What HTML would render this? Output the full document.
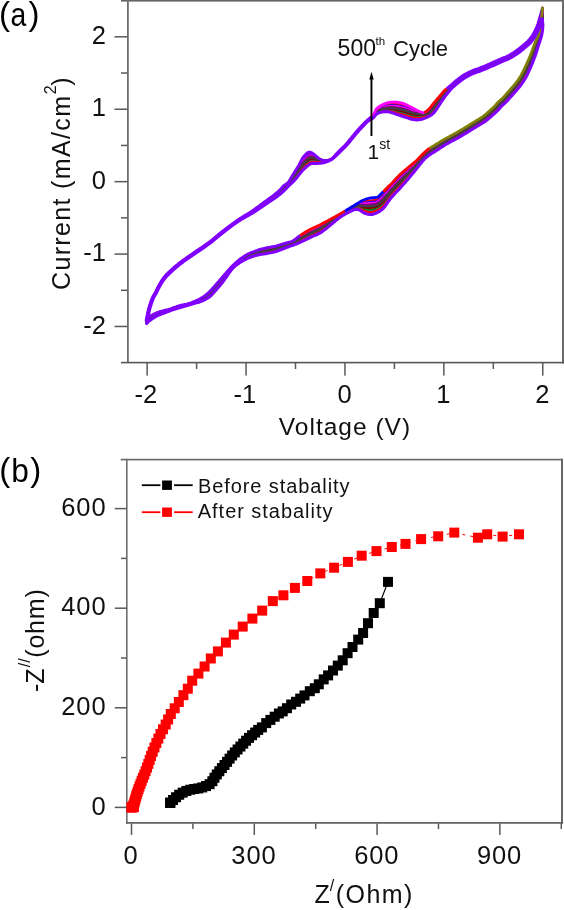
<!DOCTYPE html>
<html><head><meta charset="utf-8"><style>html,body{margin:0;padding:0;background:#fff;width:564px;height:910px;overflow:hidden;position:relative}</style></head>
<body>
<svg width="564" height="910" viewBox="0 0 564 910" style="position:absolute;left:0;top:0;filter:blur(0.4px)">
<rect x="0" y="0" width="564" height="910" fill="#fff"/>
<rect x="121" y="0" width="443" height="1.6" fill="#666"/>
<rect x="127" y="0" width="1.8" height="363" fill="#6e6e6e"/>
<rect x="562" y="0" width="2" height="363.4" fill="#6a6a6a"/>
<rect x="121" y="361.8" width="443" height="1.6" fill="#555"/>
<rect x="114.5" y="325.74" width="13" height="1.5" fill="#5a5a5a"/>
<rect x="121" y="289.53" width="6.5" height="1.5" fill="#5a5a5a"/>
<rect x="114.5" y="253.32" width="13" height="1.5" fill="#5a5a5a"/>
<rect x="121" y="217.11" width="6.5" height="1.5" fill="#5a5a5a"/>
<rect x="114.5" y="180.9" width="13" height="1.5" fill="#5a5a5a"/>
<rect x="121" y="144.69" width="6.5" height="1.5" fill="#5a5a5a"/>
<rect x="114.5" y="108.48" width="13" height="1.5" fill="#5a5a5a"/>
<rect x="121" y="72.27" width="6.5" height="1.5" fill="#5a5a5a"/>
<rect x="114.5" y="36.06" width="13" height="1.5" fill="#5a5a5a"/>
<rect x="146.4" y="363" width="1.5" height="12.6" fill="#5a5a5a"/>
<rect x="195.85" y="363" width="1.5" height="6" fill="#5a5a5a"/>
<rect x="245.3" y="363" width="1.5" height="12.6" fill="#5a5a5a"/>
<rect x="294.75" y="363" width="1.5" height="6" fill="#5a5a5a"/>
<rect x="344.2" y="363" width="1.5" height="12.6" fill="#5a5a5a"/>
<rect x="393.65" y="363" width="1.5" height="6" fill="#5a5a5a"/>
<rect x="443.1" y="363" width="1.5" height="12.6" fill="#5a5a5a"/>
<rect x="492.55" y="363" width="1.5" height="6" fill="#5a5a5a"/>
<rect x="542" y="363" width="1.5" height="12.6" fill="#5a5a5a"/>
<text x="106" y="43.91" font-family="Liberation Sans, sans-serif" font-size="25.5" text-anchor="end" fill="#111">2</text>
<text x="106" y="116.33" font-family="Liberation Sans, sans-serif" font-size="25.5" text-anchor="end" fill="#111">1</text>
<text x="106" y="188.75" font-family="Liberation Sans, sans-serif" font-size="25.5" text-anchor="end" fill="#111">0</text>
<text x="106" y="261.17" font-family="Liberation Sans, sans-serif" font-size="25.5" text-anchor="end" fill="#111">-1</text>
<text x="106" y="333.59" font-family="Liberation Sans, sans-serif" font-size="25.5" text-anchor="end" fill="#111">-2</text>
<text x="145.95" y="403.4" font-family="Liberation Sans, sans-serif" font-size="25.5" text-anchor="middle" fill="#111">-2</text>
<text x="244.85" y="403.4" font-family="Liberation Sans, sans-serif" font-size="25.5" text-anchor="middle" fill="#111">-1</text>
<text x="344.55" y="403.4" font-family="Liberation Sans, sans-serif" font-size="25.5" text-anchor="middle" fill="#111">0</text>
<text x="443.45" y="403.4" font-family="Liberation Sans, sans-serif" font-size="25.5" text-anchor="middle" fill="#111">1</text>
<text x="542.35" y="403.4" font-family="Liberation Sans, sans-serif" font-size="25.5" text-anchor="middle" fill="#111">2</text>
<text x="278.8" y="435" font-family="Liberation Sans, sans-serif" font-size="24.5" textLength="131.3" lengthAdjust="spacing" fill="#111">Voltage (V)</text>
<g transform="translate(69.5,290) rotate(-90)"><text x="0" y="0" font-family="Liberation Sans, sans-serif" font-size="25" fill="#111"><tspan textLength="194" lengthAdjust="spacing">Current (mA/cm</tspan><tspan font-size="16" dy="-13.5" dx="0.5">2</tspan><tspan dy="13.5" dx="-0.5">)</tspan></text></g>
<text x="-1" y="24.6" font-family="Liberation Sans, sans-serif" font-size="33" fill="#000">(</text>
<text transform="translate(10.4,25.6) scale(0.86,1)" x="0" y="0" font-family="Liberation Sans, sans-serif" font-size="33" fill="#000">a</text>
<text x="28.4" y="24.6" font-family="Liberation Sans, sans-serif" font-size="33" fill="#000">)</text>
<polyline points="146.29,320.42 146.63,318.62 146.97,316.83 147.32,315.03 147.69,313.24 148.08,311.46 148.51,309.68 148.98,307.92 149.48,306.16 150.03,304.41 150.61,302.68 151.23,300.96 151.89,299.26 152.59,297.57 153.38,295.92 154.37,294.39 155.28,292.81 156.1,291.17 156.9,289.53 157.7,287.89 158.52,286.26 159.39,284.65 160.32,283.07 161.28,281.52 162.28,279.99 163.32,278.49 164.42,277.02 165.59,275.63 166.86,274.31 168.18,273.05 169.51,271.8 170.84,270.54 172.19,269.31 173.55,268.08 174.92,266.88 176.32,265.7 177.73,264.54 179.16,263.41 180.61,262.29 182.07,261.19 183.54,260.11 185.03,259.05 186.53,258.01 188.03,256.96 189.53,255.91 191.03,254.87 192.53,253.83 194.04,252.79 195.54,251.76 197.05,250.73 198.56,249.7 200.07,248.67 201.58,247.64 203.09,246.61 204.6,245.58 206.1,244.53 207.6,243.49 209.08,242.43 210.54,241.33 211.97,240.18 213.37,239.01 214.77,237.83 216.17,236.66 217.57,235.49 218.98,234.32 220.39,233.16 221.82,232.02 223.26,230.9 224.72,229.8 226.18,228.69 227.64,227.59 229.1,226.5 230.56,225.41 232.04,224.32 233.51,223.25 235,222.18 236.49,221.13 237.99,220.09 239.52,219.08 241.06,218.09 242.61,217.12 244.17,216.18 245.73,215.24 247.3,214.29 248.86,213.34 250.4,212.36 251.94,211.37 253.45,210.34 254.95,209.3 256.44,208.25 257.92,207.18 259.4,206.1 260.87,205.02 262.35,203.94 263.82,202.86 265.29,201.78 266.78,200.71 268.27,199.65 269.76,198.6 271.25,197.54 272.72,196.45 274.16,195.34 275.6,194.21 277.01,193.05 278.41,191.87 279.76,190.65 281.04,189.34 282.22,187.96 283.48,186.64 284.96,185.57 286.48,184.57 287.8,183.32 288.89,181.86 289.92,180.35 290.91,178.83 291.89,177.3 292.89,175.78 293.9,174.26 294.92,172.75 295.93,171.23 296.92,169.69 297.9,168.15 298.86,166.6 299.78,165.03 300.65,163.43 301.53,161.84 302.48,160.29 303.53,158.8 304.69,157.4 305.94,156.07 307.33,154.89 308.87,153.93 310.64,153.75 312.34,154.39 313.92,155.23 315.41,156.18 316.84,157.2 318.28,158.19 319.79,159.07 321.4,159.76 323.09,160.27 324.84,160.57 326.63,160.59 328.4,160.22 330.1,159.6 331.72,158.78 333.22,157.76 334.45,156.41 335.55,154.96 336.78,153.61 338.06,152.31 339.36,151.02 340.67,149.74 341.97,148.46 343.27,147.18 344.57,145.89 345.84,144.58 347.06,143.22 348.24,141.83 349.4,140.41 350.55,138.99 351.7,137.58 352.86,136.16 354.02,134.75 355.19,133.34 356.36,131.94 357.56,130.56 358.78,129.2 360.01,127.85 361.25,126.51 362.51,125.18 363.78,123.87 365.06,122.57 366.38,121.31 367.74,120.1 369.15,118.95 370.58,117.81 371.95,116.61 373.24,115.33 374.39,113.93 375.29,112.41 376.15,110.89 377.25,109.53 378.61,108.38 380.1,107.4 381.65,106.54 383.3,105.88 385.01,105.36 386.72,104.89 388.46,104.5 390.23,104.23 392.03,104.1 393.84,104.06 395.65,104.09 397.46,104.22 399.27,104.49 401.05,104.86 402.82,105.32 404.55,105.91 406.25,106.58 407.92,107.3 409.59,108.03 411.25,108.73 412.91,109.42 414.57,110.09 416.2,110.77 417.83,111.43 419.46,112.05 421.12,112.59 422.84,112.95 424.62,112.98 426.34,112.41 427.84,111.39 429.16,110.13 430.4,108.78 431.54,107.36 432.63,105.89 433.74,104.44 434.88,103.02 436.04,101.6 437.19,100.19 438.35,98.78 439.52,97.37 440.68,95.97 441.85,94.56 443.01,93.15 444.19,91.76 445.42,90.41 446.74,89.14 448.13,87.96 449.55,86.82 450.95,85.64 452.32,84.44 453.7,83.23 455.09,82.04 456.49,80.87 457.92,79.73 459.37,78.62 460.83,77.53 462.33,76.47 463.86,75.48 465.43,74.55 467.03,73.67 468.66,72.85 470.31,72.06 471.98,71.31 473.67,70.61 475.38,69.99 477.12,69.41 478.84,68.81 480.55,68.15 482.24,67.46 483.93,66.76 485.61,66.05 487.29,65.33 488.97,64.6 490.64,63.87 492.31,63.12 493.98,62.37 495.64,61.61 497.3,60.86 498.97,60.11 500.65,59.39 502.34,58.69 504.04,58.01 505.73,57.32 507.39,56.57 509.02,55.74 510.62,54.85 512.19,53.92 513.73,52.94 515.25,51.93 516.75,50.88 518.23,49.81 519.68,48.69 521.1,47.55 522.51,46.38 523.91,45.2 525.3,44.02 526.68,42.82 528.01,41.57 529.26,40.24 530.43,38.83 531.52,37.37 532.53,35.85 533.49,34.29 534.39,32.7 535.24,31.08 536.04,29.44 536.79,27.77 537.48,26.08 538.09,24.36 538.63,22.61 539.12,20.85 539.6,19.09 540.11,17.33 540.63,15.58 541.16,14.24 541.63,13.01 542.09,11.78 542.54,10.55" fill="none" stroke="#ff0000" stroke-width="2.2" stroke-linejoin="round" stroke-linecap="round"/>
<polyline points="542.54,10.55 542.38,12.3 542.21,14.06 542.04,15.81 541.85,17.56 541.66,19.31 541.45,21.06 541.23,22.81 541,24.55 540.75,26.29 540.5,28.03 540.24,29.77 539.96,31.51 539.65,33.24 539.26,34.96 538.64,36.6 537.91,38.2 537.22,39.82 536.48,41.41 535.76,43.02 535.1,44.66 534.47,46.31 533.86,47.96 533.26,49.61 532.65,51.27 532.04,52.92 531.42,54.57 530.77,56.21 530.1,57.84 529.41,59.46 528.71,61.07 527.99,62.68 527.25,64.28 526.5,65.88 525.74,67.46 524.97,69.04 524.18,70.62 523.38,72.18 522.56,73.73 521.7,75.27 520.82,76.79 519.91,78.29 518.96,79.77 517.97,81.23 516.95,82.66 515.89,84.07 514.78,85.44 513.65,86.79 512.51,88.13 511.36,89.47 510.19,90.79 509,92.09 507.81,93.38 506.62,94.68 505.45,95.99 504.29,97.32 503.12,98.64 501.91,99.92 500.64,101.14 499.32,102.31 498,103.48 496.75,104.71 495.56,106.02 494.39,107.33 493.17,108.6 491.89,109.81 490.58,110.98 489.25,112.13 487.9,113.27 486.56,114.4 485.21,115.53 483.84,116.63 482.43,117.69 480.98,118.69 479.5,119.64 478,120.57 476.51,121.5 475,122.42 473.49,123.33 471.98,124.24 470.47,125.15 468.96,126.06 467.46,126.97 465.96,127.9 464.46,128.82 462.96,129.74 461.45,130.66 459.94,131.56 458.42,132.45 456.89,133.32 455.35,134.19 453.81,135.05 452.28,135.91 450.74,136.78 449.2,137.64 447.66,138.49 446.12,139.34 444.58,140.2 443.05,141.06 441.52,141.94 440,142.84 438.5,143.76 437.01,144.69 435.52,145.64 434.04,146.59 432.54,147.52 431.05,148.45 429.57,149.39 428.13,150.39 426.75,151.47 425.43,152.63 424.16,153.85 422.92,155.1 421.68,156.35 420.46,157.62 419.26,158.91 418.06,160.2 416.85,161.48 415.6,162.72 414.32,163.93 413.02,165.11 411.69,166.27 410.36,167.42 409.03,168.57 407.71,169.72 406.38,170.88 405.05,172.04 403.72,173.19 402.4,174.35 401.1,175.54 399.83,176.75 398.58,178 397.37,179.28 396.16,180.56 394.97,181.86 393.78,183.16 392.59,184.46 391.39,185.75 390.18,187.03 388.97,188.31 387.76,189.58 386.54,190.85 385.33,192.12 384.11,193.39 382.87,194.64 381.61,195.88 380.32,197.08 379.05,198.28 377.73,199.41 376.05,199.91 374.3,200.12 372.55,200.25 370.79,200.4 369.06,200.65 367.35,200.96 365.67,201.32 364.04,201.7 362.44,202.14 360.88,202.65 359.35,203.28 357.82,204 356.3,204.83 354.77,205.69 353.25,206.58 351.74,207.48 350.22,208.38 348.71,209.29 347.2,210.19 345.69,211.1 344.18,212.01 342.67,212.92 341.16,213.83 339.65,214.73 338.14,215.63 336.63,216.53 335.12,217.42 333.6,218.31 332.08,219.2 330.56,220.08 329.04,220.96 327.51,221.84 325.99,222.71 324.46,223.58 322.92,224.44 321.38,225.28 319.82,226.1 318.24,226.88 316.64,227.62 315.03,228.34 313.43,229.06 311.83,229.8 310.25,230.58 308.69,231.41 307.15,232.27 305.63,233.15 304.11,234.04 302.6,234.95 301.1,235.88 299.62,236.82 298.18,237.83 296.77,238.87 295.37,239.92 293.93,240.91 292.38,241.74 290.74,242.39 289.05,242.87 287.35,243.32 285.66,243.83 283.98,244.36 282.3,244.9 280.62,245.43 278.94,245.94 277.25,246.43 275.54,246.88 273.82,247.27 272.09,247.6 270.36,247.91 268.62,248.21 266.89,248.54 265.17,248.92 263.46,249.34 261.75,249.76 260.05,250.21 258.35,250.69 256.67,251.21 255.01,251.79 253.36,252.41 251.72,253.05 250.09,253.73 248.48,254.45 246.9,255.22 245.35,256.06 243.84,256.96 242.36,257.93 240.92,258.94 239.51,260 238.13,261.09 236.78,262.22 235.46,263.39 234.17,264.59 232.91,265.82 231.68,267.08 230.49,268.37 229.31,269.69 228.16,271.02 227.02,272.36 225.89,273.71 224.76,275.06 223.62,276.4 222.48,277.74 221.33,279.08 220.19,280.42 219.05,281.76 217.91,283.11 216.77,284.45 215.62,285.79 214.46,287.12 213.29,288.43 212.1,289.73 210.89,291.01 209.64,292.26 208.35,293.46 207,294.59 205.61,295.66 204.17,296.68 202.69,297.63 201.18,298.53 199.64,299.37 198.05,300.13 196.44,300.83 194.81,301.51 193.19,302.18 191.55,302.83 189.9,303.44 188.22,303.98 186.51,304.4 184.78,304.75 183.06,305.1 181.35,305.53 179.65,306 177.96,306.5 176.28,307.03 174.61,307.58 172.95,308.18 171.29,308.77 169.62,309.33 167.93,309.82 166.23,310.28 164.53,310.74 162.84,311.22 161.14,311.68 159.44,312.17 157.78,312.75 156.16,313.44 154.58,314.21 153.02,315.04 151.5,315.92 150.03,316.9 148.75,318.1 147.65,319.47 146.7,320.95" fill="none" stroke="#ff0000" stroke-width="2.2" stroke-linejoin="round" stroke-linecap="round"/>
<polyline points="146.76,320.51 147.1,318.74 147.44,316.96 147.78,315.19 148.14,313.41 148.53,311.65 148.96,309.89 149.41,308.14 149.91,306.41 150.44,304.68 151.02,302.96 151.63,301.26 152.28,299.58 152.97,297.91 153.74,296.27 154.71,294.75 155.62,293.19 156.43,291.58 157.22,289.95 158.01,288.32 158.83,286.71 159.68,285.12 160.59,283.56 161.55,282.02 162.55,280.52 163.59,279.04 164.68,277.6 165.83,276.21 167.07,274.89 168.37,273.64 169.69,272.4 171.01,271.16 172.33,269.93 173.68,268.72 175.03,267.53 176.41,266.35 177.8,265.2 179.22,264.08 180.64,262.97 182.08,261.88 183.54,260.8 185.01,259.75 186.49,258.72 187.97,257.68 189.46,256.65 190.94,255.61 192.42,254.59 193.91,253.56 195.4,252.53 196.89,251.51 198.39,250.5 199.88,249.48 201.38,248.46 202.87,247.44 204.36,246.42 205.85,245.39 207.33,244.36 208.81,243.31 210.26,242.24 211.69,241.13 213.08,239.98 214.46,238.82 215.85,237.65 217.24,236.5 218.63,235.34 220.02,234.19 221.42,233.05 222.84,231.94 224.28,230.83 225.72,229.74 227.16,228.65 228.6,227.56 230.05,226.48 231.5,225.4 232.95,224.33 234.42,223.26 235.89,222.22 237.37,221.18 238.87,220.18 240.39,219.2 241.93,218.24 243.48,217.32 245.04,216.4 246.6,215.49 248.16,214.58 249.71,213.66 251.26,212.72 252.78,211.74 254.29,210.75 255.78,209.74 257.27,208.71 258.75,207.67 260.22,206.63 261.7,205.58 263.17,204.53 264.64,203.48 266.11,202.44 267.6,201.4 269.09,200.38 270.58,199.36 272.06,198.33 273.54,197.29 274.99,196.21 276.42,195.11 277.84,193.99 279.23,192.84 280.56,191.63 281.84,190.37 283.15,189.12 284.54,187.98 285.93,186.85 287.21,185.58 288.34,184.17 289.49,182.8 290.64,181.43 291.78,180.05 292.9,178.65 294.03,177.25 295.14,175.83 296.22,174.39 297.26,172.92 298.28,171.43 299.31,169.95 300.34,168.47 301.36,166.99 302.39,165.54 303.5,164.13 304.68,162.78 305.92,161.48 307.24,160.25 308.68,159.17 310.28,158.36 312.05,158.21 313.78,158.6 315.46,159.08 317.09,159.53 318.69,160.02 320.28,160.44 321.9,160.72 323.55,160.83 325.24,160.81 326.94,160.65 328.64,160.29 330.27,159.63 331.84,158.78 333.32,157.79 334.72,156.67 335.97,155.37 337.15,154 338.39,152.69 339.66,151.4 340.95,150.13 342.24,148.87 343.53,147.6 344.8,146.32 346.05,145.02 347.27,143.68 348.45,142.31 349.6,140.92 350.74,139.52 351.89,138.12 353.03,136.72 354.17,135.32 355.33,133.93 356.49,132.54 357.67,131.17 358.87,129.82 360.08,128.48 361.31,127.16 362.55,125.84 363.79,124.52 365.05,123.23 366.34,121.97 367.71,120.79 369.17,119.76 370.66,118.77 372.08,117.64 373.28,116.32 374.49,114.99 375.79,113.77 377.03,112.62 378.28,111.56 379.68,110.66 381.24,109.94 382.86,109.38 384.52,108.99 386.22,108.8 387.94,108.73 389.64,108.74 391.36,108.8 393.1,108.93 394.85,109.12 396.6,109.37 398.35,109.65 400.11,109.99 401.86,110.39 403.61,110.85 405.35,111.35 407.06,111.91 408.77,112.49 410.48,113.05 412.19,113.56 413.91,113.97 415.63,114.28 417.33,114.53 419.02,114.7 420.68,114.79 422.32,114.8 423.96,114.74 425.63,114.56 427.31,114.17 428.93,113.43 430.37,112.35 431.63,111.06 432.8,109.68 433.9,108.25 434.94,106.77 435.98,105.29 437.03,103.83 438.1,102.38 439.17,100.92 440.24,99.47 441.33,98.03 442.43,96.6 443.55,95.18 444.68,93.77 445.83,92.38 447.02,91.02 448.26,89.71 449.56,88.46 450.89,87.24 452.24,86.04 453.6,84.85 454.97,83.68 456.36,82.52 457.77,81.39 459.19,80.27 460.62,79.17 462.08,78.1 463.58,77.09 465.11,76.13 466.68,75.23 468.27,74.38 469.89,73.58 471.53,72.82 473.19,72.1 474.87,71.44 476.58,70.86 478.29,70.28 479.99,69.65 481.67,68.99 483.34,68.3 485.01,67.6 486.67,66.9 488.34,66.18 489.99,65.46 491.65,64.73 493.3,63.99 494.94,63.25 496.59,62.5 498.23,61.75 499.89,61.02 501.55,60.31 503.22,59.63 504.9,58.96 506.57,58.26 508.21,57.5 509.82,56.68 511.39,55.79 512.94,54.86 514.47,53.89 515.97,52.89 517.46,51.86 518.92,50.79 520.35,49.69 521.76,48.56 523.15,47.41 524.54,46.24 525.92,45.08 527.28,43.89 528.61,42.67 529.86,41.36 531.03,39.99 532.12,38.54 533.13,37.04 534.08,35.51 534.98,33.94 535.83,32.34 536.63,30.72 537.38,29.08 538.07,27.41 538.71,25.72 539.25,23.99 539.73,22.25 540.18,20.5 540.64,18.75 541.17,17.03 541.74,16.79 542.06,16.98 542.36,17.16 542.66,17.35" fill="none" stroke="#000080" stroke-width="2.2" stroke-linejoin="round" stroke-linecap="round"/>
<polyline points="542.66,17.35 542.54,19.1 542.41,20.86 542.24,22.61 542.03,24.35 541.78,26.09 541.51,27.83 541.19,29.55 540.83,31.26 540.43,32.96 540.04,34.67 539.65,36.37 539.26,38.08 538.85,39.79 538.4,41.49 537.82,43.14 537.19,44.78 536.57,46.42 535.9,48.04 535.24,49.67 534.6,51.31 533.97,52.95 533.35,54.59 532.71,56.23 532.07,57.87 531.43,59.5 530.77,61.13 530.1,62.76 529.41,64.38 528.7,65.98 527.97,67.58 527.21,69.17 526.42,70.74 525.61,72.29 524.77,73.83 523.9,75.36 523.01,76.87 522.1,78.36 521.15,79.82 520.17,81.27 519.17,82.71 518.15,84.13 517.11,85.54 516.04,86.93 514.95,88.3 513.84,89.66 512.7,91.01 511.56,92.34 510.41,93.67 509.24,94.98 508.04,96.27 506.8,97.51 505.54,98.73 504.31,99.99 503.14,101.3 502,102.63 500.83,103.94 499.6,105.21 498.33,106.42 497.02,107.6 495.71,108.77 494.43,109.97 493.19,111.21 491.94,112.44 490.66,113.64 489.33,114.78 487.96,115.88 486.56,116.94 485.15,117.98 483.74,119.01 482.32,120.04 480.89,121.05 479.44,122.03 477.96,122.99 476.47,123.92 474.97,124.84 473.48,125.77 471.98,126.69 470.48,127.61 468.98,128.53 467.48,129.44 465.97,130.34 464.46,131.24 462.95,132.14 461.44,133.04 459.92,133.93 458.41,134.81 456.88,135.69 455.35,136.55 453.81,137.4 452.27,138.24 450.73,139.09 449.2,139.95 447.68,140.84 446.17,141.74 444.67,142.65 443.17,143.56 441.67,144.48 440.16,145.39 438.65,146.28 437.14,147.18 435.63,148.09 434.14,149.02 432.67,149.99 431.22,150.97 429.79,151.98 428.38,153.02 427.01,154.1 425.7,155.24 424.44,156.46 423.23,157.72 422.04,159 420.87,160.31 419.7,161.62 418.54,162.94 417.39,164.26 416.23,165.59 415.07,166.9 413.89,168.2 412.68,169.47 411.46,170.73 410.23,171.98 409,173.22 407.76,174.45 406.51,175.69 405.26,176.92 404.01,178.14 402.75,179.37 401.5,180.59 400.25,181.83 399.02,183.09 397.81,184.35 396.6,185.63 395.39,186.91 394.2,188.21 393.02,189.51 391.85,190.82 390.7,192.14 389.56,193.48 388.44,194.83 387.34,196.19 386.22,197.54 385.09,198.88 383.92,200.19 382.69,201.44 381.4,202.63 380.04,203.73 378.65,204.78 377.21,205.75 375.56,206.34 373.86,206.7 372.12,206.93 370.36,207.04 368.63,207.07 366.92,207.03 365.26,206.95 363.67,206.76 362.14,206.53 360.63,206.34 359.1,206.26 357.5,206.45 355.87,206.94 354.27,207.64 352.72,208.44 351.17,209.28 349.63,210.11 348.09,210.96 346.56,211.83 345.05,212.72 343.54,213.63 342.05,214.56 340.56,215.5 339.1,216.47 337.66,217.46 336.22,218.47 334.79,219.47 333.37,220.48 331.93,221.49 330.49,222.48 329.04,223.46 327.58,224.44 326.13,225.41 324.68,226.39 323.21,227.34 321.72,228.27 320.2,229.16 318.66,229.99 317.08,230.75 315.47,231.47 313.86,232.17 312.25,232.87 310.65,233.61 309.08,234.39 307.52,235.21 305.98,236.05 304.44,236.9 302.91,237.76 301.38,238.62 299.85,239.47 298.33,240.33 296.82,241.19 295.3,242.03 293.76,242.83 292.16,243.55 290.52,244.16 288.84,244.68 287.16,245.19 285.49,245.76 283.84,246.35 282.19,246.95 280.53,247.54 278.87,248.11 277.2,248.64 275.51,249.13 273.8,249.54 272.08,249.89 270.35,250.2 268.62,250.5 266.89,250.82 265.16,251.17 263.45,251.53 261.73,251.89 260.01,252.26 258.3,252.66 256.6,253.12 254.93,253.63 253.27,254.21 251.62,254.82 249.99,255.47 248.37,256.17 246.78,256.92 245.22,257.73 243.7,258.6 242.2,259.52 240.72,260.47 239.27,261.46 237.86,262.5 236.49,263.6 235.15,264.74 233.87,265.95 232.65,267.21 231.46,268.5 230.34,269.85 229.23,271.21 228.15,272.6 227.08,273.99 226.02,275.38 224.95,276.77 223.87,278.16 222.77,279.53 221.65,280.89 220.53,282.24 219.4,283.59 218.27,284.93 217.13,286.27 215.98,287.6 214.82,288.93 213.65,290.24 212.46,291.53 211.25,292.81 210.01,294.05 208.69,295.21 207.27,296.24 205.83,297.24 204.34,298.17 202.82,299.04 201.26,299.84 199.67,300.57 198.04,301.2 196.38,301.77 194.73,302.35 193.08,302.94 191.42,303.53 189.76,304.1 188.08,304.62 186.38,305.07 184.67,305.49 182.97,305.9 181.27,306.36 179.58,306.86 177.9,307.36 176.22,307.89 174.55,308.42 172.88,308.96 171.21,309.52 169.54,310.08 167.88,310.64 166.22,311.2 164.55,311.76 162.89,312.31 161.21,312.84 159.54,313.37 157.9,314 156.31,314.74 154.76,315.56 153.23,316.44 151.73,317.36 150.27,318.33 148.92,319.45 147.74,320.74 146.7,322.15" fill="none" stroke="#000080" stroke-width="2.2" stroke-linejoin="round" stroke-linecap="round"/>
<polyline points="146.52,320.46 146.86,318.68 147.2,316.89 147.55,315.11 147.91,313.33 148.3,311.55 148.73,309.79 149.2,308.03 149.7,306.28 150.23,304.55 150.81,302.82 151.43,301.11 152.08,299.42 152.78,297.74 153.56,296.1 154.54,294.57 155.45,293 156.27,291.37 157.06,289.74 157.86,288.11 158.67,286.48 159.54,284.88 160.45,283.31 161.41,281.77 162.41,280.25 163.46,278.76 164.55,277.31 165.71,275.92 166.97,274.6 168.28,273.34 169.6,272.1 170.92,270.85 172.26,269.62 173.61,268.4 174.98,267.2 176.36,266.03 177.77,264.87 179.19,263.74 180.63,262.63 182.08,261.53 183.54,260.46 185.02,259.4 186.51,258.36 188,257.32 189.49,256.28 190.98,255.24 192.48,254.21 193.97,253.18 195.47,252.15 196.97,251.12 198.48,250.1 199.98,249.08 201.48,248.05 202.98,247.03 204.48,246 205.97,244.96 207.46,243.92 208.94,242.87 210.4,241.79 211.83,240.66 213.23,239.5 214.61,238.32 216.01,237.16 217.4,235.99 218.8,234.83 220.21,233.68 221.62,232.54 223.05,231.42 224.5,230.31 225.95,229.22 227.4,228.12 228.85,227.03 230.31,225.94 231.77,224.86 233.23,223.79 234.71,222.72 236.19,221.67 237.68,220.64 239.2,219.63 240.72,218.65 242.27,217.68 243.82,216.75 245.39,215.82 246.95,214.89 248.51,213.96 250.06,213.01 251.6,212.04 253.11,211.04 254.62,210.03 256.11,208.99 257.59,207.94 259.07,206.89 260.55,205.82 262.02,204.76 263.49,203.69 264.97,202.63 266.45,201.57 267.93,200.53 269.43,199.49 270.92,198.45 272.39,197.39 273.85,196.31 275.29,195.21 276.72,194.08 278.12,192.93 279.49,191.74 280.8,190.49 282.03,189.16 283.31,187.88 284.75,186.78 286.2,185.71 287.51,184.45 288.62,183.02 289.71,181.58 290.78,180.13 291.84,178.67 292.89,177.21 293.96,175.76 295.03,174.29 296.07,172.81 297.09,171.31 298.09,169.79 299.08,168.27 300.06,166.75 301.01,165.21 301.96,163.69 302.99,162.21 304.1,160.79 305.3,159.44 306.59,158.16 308.01,157.03 309.58,156.14 311.35,155.98 313.06,156.49 314.69,157.15 316.25,157.86 317.76,158.61 319.28,159.32 320.85,159.89 322.48,160.3 324.16,160.54 325.89,160.61 327.64,160.44 329.34,159.92 330.97,159.19 332.52,158.29 333.97,157.21 335.21,155.89 336.35,154.48 337.58,153.15 338.86,151.86 340.16,150.58 341.45,149.31 342.75,148.03 344.04,146.75 345.31,145.45 346.55,144.13 347.75,142.76 348.92,141.37 350.07,139.97 351.22,138.56 352.37,137.15 353.52,135.74 354.67,134.34 355.84,132.94 357.02,131.56 358.21,130.19 359.43,128.84 360.66,127.5 361.9,126.18 363.15,124.85 364.41,123.55 365.7,122.27 367.04,121.05 368.46,119.93 369.91,118.86 371.33,117.73 372.62,116.47 373.87,115.16 375.09,113.85 376.16,112.51 377.21,111.22 378.47,110.09 379.92,109.16 381.48,108.39 383.09,107.77 384.76,107.34 386.47,107.05 388.18,106.82 389.91,106.65 391.66,106.58 393.44,106.61 395.22,106.71 397,106.87 398.79,107.11 400.57,107.44 402.33,107.86 404.08,108.33 405.81,108.91 407.51,109.54 409.2,110.18 410.89,110.79 412.58,111.35 414.27,111.85 415.95,112.31 417.61,112.73 419.25,113.11 420.89,113.42 422.54,113.66 424.23,113.76 425.96,113.58 427.63,112.92 429.11,111.87 430.4,110.59 431.6,109.23 432.72,107.8 433.79,106.33 434.86,104.87 435.96,103.42 437.07,101.99 438.18,100.56 439.3,99.13 440.42,97.7 441.56,96.29 442.7,94.87 443.85,93.46 445.01,92.07 446.22,90.71 447.5,89.42 448.84,88.21 450.22,87.03 451.59,85.84 452.96,84.64 454.34,83.46 455.73,82.28 457.13,81.13 458.55,80 459.99,78.89 461.46,77.82 462.95,76.78 464.48,75.8 466.05,74.89 467.65,74.03 469.28,73.22 470.92,72.44 472.58,71.7 474.27,71.03 475.98,70.42 477.71,69.84 479.42,69.23 481.11,68.57 482.79,67.88 484.47,67.18 486.14,66.47 487.81,65.75 489.48,65.03 491.15,64.3 492.8,63.56 494.46,62.81 496.11,62.05 497.77,61.3 499.43,60.56 501.1,59.85 502.78,59.16 504.47,58.48 506.15,57.79 507.8,57.03 509.42,56.21 511.01,55.32 512.56,54.39 514.1,53.41 515.61,52.41 517.11,51.37 518.57,50.3 520.01,49.19 521.43,48.05 522.83,46.89 524.22,45.72 525.61,44.55 526.98,43.36 528.31,42.12 529.56,40.8 530.73,39.41 531.82,37.96 532.83,36.45 533.78,34.9 534.68,33.32 535.53,31.71 536.33,30.08 537.09,28.43 537.78,26.74 538.4,25.04 538.94,23.3 539.42,21.55 539.89,19.8 540.37,18.04 540.9,16.31 541.45,15.51 541.84,14.99 542.22,14.47 542.61,13.95" fill="none" stroke="#808000" stroke-width="2.2" stroke-linejoin="round" stroke-linecap="round"/>
<polyline points="542.61,13.95 542.46,15.7 542.31,17.46 542.14,19.21 541.94,20.96 541.72,22.7 541.48,24.44 541.21,26.18 540.91,27.91 540.59,29.63 540.27,31.35 539.94,33.07 539.61,34.79 539.25,36.51 538.83,38.22 538.23,39.87 537.55,41.49 536.89,43.12 536.19,44.73 535.5,46.35 534.85,47.98 534.22,49.63 533.61,51.27 532.99,52.92 532.36,54.57 531.73,56.21 531.09,57.85 530.43,59.48 529.75,61.11 529.06,62.72 528.34,64.33 527.6,65.92 526.84,67.51 526.05,69.08 525.25,70.65 524.43,72.2 523.6,73.74 522.74,75.27 521.85,76.78 520.94,78.27 519.99,79.75 519.03,81.21 518.03,82.66 517.01,84.08 515.95,85.48 514.86,86.86 513.74,88.22 512.61,89.57 511.46,90.9 510.3,92.22 509.12,93.53 507.9,94.8 506.68,96.06 505.47,97.33 504.29,98.65 503.14,99.98 501.97,101.29 500.76,102.57 499.49,103.78 498.17,104.95 496.86,106.12 495.59,107.34 494.38,108.61 493.17,109.89 491.92,111.12 490.61,112.29 489.27,113.43 487.91,114.53 486.53,115.62 485.15,116.71 483.77,117.78 482.36,118.84 480.93,119.86 479.47,120.84 477.99,121.78 476.49,122.71 474.99,123.63 473.49,124.55 471.99,125.47 470.48,126.38 468.98,127.29 467.47,128.2 465.96,129.11 464.45,130.02 462.95,130.93 461.44,131.84 459.93,132.74 458.41,133.63 456.88,134.5 455.35,135.36 453.81,136.22 452.27,137.07 450.74,137.93 449.21,138.81 447.69,139.69 446.16,140.57 444.64,141.45 443.13,142.34 441.61,143.22 440.09,144.11 438.57,145.01 437.07,145.92 435.57,146.85 434.1,147.81 432.63,148.78 431.16,149.75 429.71,150.73 428.29,151.75 426.91,152.82 425.6,153.97 424.33,155.17 423.1,156.43 421.89,157.7 420.69,158.99 419.5,160.28 418.32,161.59 417.15,162.89 415.96,164.19 414.74,165.46 413.5,166.7 412.24,167.92 410.96,169.12 409.68,170.32 408.39,171.51 407.11,172.71 405.82,173.9 404.53,175.09 403.24,176.28 401.95,177.47 400.68,178.69 399.42,179.92 398.19,181.18 396.98,182.45 395.78,183.74 394.59,185.03 393.4,186.34 392.22,187.64 391.04,188.95 389.87,190.26 388.71,191.57 387.55,192.88 386.38,194.19 385.21,195.5 384.01,196.79 382.78,198.04 381.5,199.25 380.18,200.4 378.85,201.53 377.47,202.58 375.81,203.13 374.08,203.41 372.33,203.59 370.58,203.72 368.84,203.86 367.14,204 365.47,204.13 363.85,204.23 362.29,204.33 360.75,204.49 359.22,204.77 357.66,205.22 356.08,205.88 354.52,206.67 352.98,207.51 351.45,208.38 349.93,209.25 348.4,210.12 346.88,211.01 345.37,211.91 343.86,212.82 342.36,213.74 340.86,214.66 339.38,215.6 337.9,216.55 336.43,217.5 334.95,218.45 333.48,219.4 332.01,220.34 330.52,221.28 329.04,222.21 327.55,223.14 326.06,224.06 324.57,224.98 323.07,225.89 321.55,226.78 320.01,227.63 318.45,228.43 316.86,229.19 315.25,229.91 313.64,230.61 312.04,231.33 310.45,232.1 308.89,232.9 307.34,233.74 305.8,234.6 304.28,235.47 302.75,236.35 301.24,237.25 299.73,238.15 298.25,239.08 296.79,240.03 295.34,240.97 293.84,241.87 292.27,242.65 290.63,243.28 288.94,243.77 287.25,244.26 285.58,244.79 283.91,245.36 282.25,245.92 280.58,246.48 278.91,247.02 277.22,247.53 275.53,248 273.81,248.4 272.09,248.75 270.35,249.06 268.62,249.36 266.89,249.68 265.17,250.05 263.45,250.44 261.74,250.83 260.03,251.24 258.33,251.68 256.64,252.17 254.97,252.71 253.31,253.31 251.67,253.94 250.04,254.6 248.43,255.31 246.84,256.07 245.29,256.9 243.77,257.78 242.28,258.72 240.82,259.71 239.39,260.73 238,261.8 236.63,262.91 235.31,264.07 234.02,265.27 232.78,266.51 231.57,267.79 230.41,269.11 229.27,270.45 228.16,271.81 227.05,273.17 225.95,274.55 224.85,275.92 223.74,277.28 222.62,278.63 221.49,279.98 220.36,281.33 219.22,282.67 218.09,284.02 216.95,285.36 215.8,286.7 214.64,288.02 213.47,289.34 212.28,290.63 211.07,291.91 209.83,293.16 208.52,294.34 207.14,295.41 205.72,296.45 204.26,297.42 202.76,298.34 201.22,299.19 199.65,299.97 198.04,300.66 196.41,301.3 194.77,301.93 193.13,302.56 191.49,303.18 189.83,303.77 188.15,304.3 186.44,304.74 184.73,305.12 183.01,305.5 181.31,305.94 179.62,306.43 177.93,306.93 176.25,307.46 174.58,308 172.91,308.57 171.25,309.14 169.58,309.7 167.9,310.23 166.22,310.74 164.54,311.25 162.86,311.77 161.18,312.26 159.49,312.77 157.84,313.37 156.23,314.09 154.67,314.89 153.13,315.74 151.62,316.64 150.15,317.61 148.84,318.78 147.7,320.11 146.7,321.55" fill="none" stroke="#808000" stroke-width="2.2" stroke-linejoin="round" stroke-linecap="round"/>
<polyline points="146.94,320.55 147.27,318.78 147.61,317.01 147.95,315.24 148.31,313.48 148.7,311.72 149.12,309.97 149.58,308.23 150.07,306.5 150.6,304.78 151.17,303.07 151.78,301.38 152.43,299.7 153.11,298.03 153.87,296.4 154.84,294.88 155.75,293.33 156.56,291.73 157.34,290.11 158.13,288.49 158.94,286.88 159.79,285.29 160.7,283.74 161.65,282.21 162.65,280.71 163.69,279.25 164.78,277.81 165.92,276.42 167.15,275.11 168.45,273.86 169.76,272.62 171.07,271.39 172.39,270.17 173.72,268.96 175.07,267.77 176.44,266.6 177.83,265.45 179.24,264.33 180.66,263.22 182.09,262.13 183.54,261.06 185,260.02 186.48,258.98 187.95,257.95 189.43,256.92 190.91,255.89 192.38,254.87 193.87,253.85 195.35,252.83 196.84,251.81 198.32,250.8 199.81,249.78 201.3,248.77 202.79,247.75 204.27,246.74 205.75,245.71 207.23,244.68 208.7,243.65 210.16,242.59 211.58,241.49 212.97,240.35 214.35,239.19 215.73,238.03 217.11,236.87 218.49,235.73 219.88,234.58 221.28,233.44 222.69,232.32 224.11,231.22 225.54,230.13 226.98,229.05 228.42,227.96 229.85,226.88 231.3,225.8 232.75,224.73 234.2,223.67 235.67,222.63 237.14,221.59 238.63,220.59 240.15,219.61 241.67,218.66 243.22,217.74 244.78,216.84 246.34,215.94 247.9,215.05 249.45,214.14 251,213.22 252.53,212.27 254.04,211.29 255.54,210.3 257.02,209.28 258.51,208.26 259.98,207.23 261.45,206.19 262.92,205.15 264.39,204.12 265.87,203.08 267.35,202.06 268.84,201.05 270.33,200.04 271.82,199.04 273.3,198.02 274.76,196.97 276.2,195.89 277.62,194.79 279.02,193.66 280.38,192.49 281.7,191.27 283.02,190.05 284.38,188.88 285.73,187.71 286.99,186.43 288.14,185.04 289.34,183.72 290.54,182.41 291.73,181.08 292.91,179.73 294.08,178.37 295.22,176.99 296.33,175.58 297.39,174.12 298.43,172.65 299.48,171.2 300.55,169.77 301.62,168.33 302.72,166.92 303.88,165.57 305.1,164.27 306.38,163.01 307.73,161.82 309.19,160.78 310.81,160.03 312.58,159.88 314.33,160.19 316.04,160.52 317.72,160.79 319.38,161.07 321.03,161.28 322.69,161.34 324.36,161.23 326.04,161.01 327.72,160.67 329.39,160.17 330.98,159.41 332.49,158.48 333.92,157.42 335.29,156.26 336.54,154.97 337.75,153.64 339,152.34 340.26,151.07 341.54,149.8 342.83,148.54 344.12,147.28 345.38,146 346.61,144.69 347.8,143.34 348.97,141.97 350.11,140.58 351.25,139.18 352.39,137.79 353.52,136.39 354.67,135 355.81,133.62 356.98,132.24 358.16,130.89 359.36,129.54 360.57,128.22 361.8,126.9 363.04,125.59 364.27,124.28 365.52,122.98 366.82,121.74 368.21,120.6 369.71,119.63 371.23,118.7 372.64,117.58 373.78,116.21 374.96,114.86 376.31,113.71 377.68,112.69 379.08,111.81 380.6,111.09 382.22,110.53 383.9,110.12 385.6,109.91 387.32,109.9 389.04,110 390.74,110.19 392.45,110.42 394.17,110.69 395.9,111.01 397.63,111.36 399.37,111.74 401.1,112.15 402.84,112.6 404.57,113.09 406.29,113.61 408.01,114.16 409.72,114.71 411.43,115.21 413.16,115.64 414.9,115.93 416.64,116.1 418.37,116.19 420.08,116.17 421.75,116.05 423.39,115.83 425.03,115.54 426.67,115.16 428.32,114.62 429.9,113.81 431.32,112.7 432.56,111.4 433.69,110.01 434.78,108.58 435.81,107.1 436.81,105.61 437.84,104.13 438.88,102.67 439.91,101.2 440.95,99.73 442.01,98.28 443.09,96.84 444.19,95.42 445.31,94.01 446.45,92.61 447.61,91.24 448.83,89.92 450.09,88.64 451.39,87.4 452.72,86.19 454.07,85 455.45,83.84 456.84,82.7 458.25,81.58 459.66,80.47 461.1,79.38 462.55,78.32 464.05,77.32 465.58,76.37 467.14,75.49 468.74,74.65 470.36,73.86 471.99,73.11 473.64,72.4 475.33,71.76 477.03,71.18 478.73,70.6 480.42,69.97 482.09,69.3 483.76,68.62 485.42,67.92 487.07,67.21 488.73,66.5 490.38,65.79 492.02,65.06 493.67,64.32 495.31,63.58 496.94,62.83 498.58,62.09 500.23,61.36 501.89,60.66 503.56,59.98 505.23,59.31 506.88,58.61 508.52,57.85 510.12,57.03 511.68,56.14 513.23,55.21 514.74,54.25 516.24,53.25 517.72,52.22 519.18,51.16 520.6,50.07 522.01,48.94 523.4,47.79 524.77,46.63 526.15,45.47 527.51,44.3 528.84,43.08 530.09,41.79 531.26,40.42 532.35,38.99 533.35,37.49 534.3,35.96 535.2,34.4 536.05,32.81 536.85,31.2 537.6,29.57 538.3,27.91 538.94,26.23 539.49,24.51 539.96,22.78 540.4,21.03 540.84,19.29 541.38,17.57 541.95,17.75 542.22,18.46 542.46,19.18 542.71,19.9" fill="none" stroke="#008000" stroke-width="2.2" stroke-linejoin="round" stroke-linecap="round"/>
<polyline points="542.71,19.9 542.6,21.65 542.48,23.4 542.32,25.15 542.09,26.9 541.83,28.63 541.53,30.36 541.18,32.08 540.76,33.78 540.32,35.47 539.87,37.16 539.43,38.85 538.99,40.55 538.55,42.24 538.08,43.93 537.52,45.6 536.92,47.24 536.32,48.89 535.69,50.53 535.05,52.16 534.42,53.8 533.79,55.44 533.15,57.08 532.51,58.71 531.86,60.34 531.2,61.97 530.53,63.6 529.85,65.22 529.15,66.83 528.43,68.43 527.69,70.02 526.92,71.6 526.11,73.16 525.27,74.7 524.4,76.22 523.5,77.72 522.57,79.21 521.61,80.67 520.62,82.11 519.59,83.52 518.55,84.93 517.49,86.32 516.41,87.7 515.32,89.07 514.2,90.42 513.07,91.76 511.92,93.09 510.78,94.42 509.62,95.75 508.45,97.05 507.23,98.32 505.97,99.54 504.69,100.74 503.45,101.98 502.28,103.29 501.14,104.62 499.97,105.93 498.74,107.19 497.47,108.4 496.16,109.58 494.86,110.75 493.57,111.94 492.3,113.16 491.03,114.36 489.72,115.53 488.37,116.65 486.98,117.72 485.56,118.74 484.12,119.75 482.68,120.74 481.24,121.73 479.78,122.71 478.31,123.66 476.83,124.6 475.33,125.52 473.84,126.44 472.34,127.37 470.85,128.29 469.36,129.22 467.86,130.14 466.36,131.05 464.85,131.95 463.34,132.84 461.82,133.73 460.31,134.62 458.79,135.5 457.26,136.37 455.73,137.24 454.2,138.08 452.65,138.92 451.11,139.76 449.57,140.61 448.04,141.47 446.53,142.36 445.03,143.28 443.54,144.21 442.06,145.15 440.57,146.08 439.08,147.01 437.58,147.91 436.07,148.81 434.56,149.71 433.07,150.64 431.61,151.61 430.17,152.62 428.75,153.65 427.37,154.73 426.05,155.87 424.78,157.06 423.58,158.33 422.41,159.62 421.25,160.94 420.1,162.26 418.96,163.59 417.82,164.93 416.69,166.27 415.55,167.61 414.4,168.93 413.24,170.25 412.07,171.55 410.88,172.84 409.69,174.12 408.48,175.39 407.28,176.66 406.06,177.92 404.84,179.18 403.62,180.43 402.39,181.68 401.16,182.93 399.93,184.19 398.72,185.46 397.51,186.74 396.31,188.01 395.11,189.3 393.91,190.59 392.74,191.89 391.57,193.2 390.43,194.54 389.33,195.9 388.25,197.28 387.18,198.66 386.1,200.04 385,201.41 383.85,202.73 382.63,203.99 381.32,205.16 379.93,206.22 378.5,207.22 377.02,208.12 375.38,208.75 373.69,209.17 371.95,209.43 370.2,209.53 368.46,209.48 366.76,209.31 365.1,209.07 363.53,208.66 362.03,208.17 360.54,207.72 359.01,207.39 357.38,207.36 355.71,207.74 354.09,208.37 352.51,209.14 350.96,209.95 349.4,210.76 347.86,211.59 346.32,212.45 344.8,213.33 343.3,214.24 341.81,215.17 340.34,216.13 338.89,217.12 337.47,218.15 336.07,219.19 334.67,220.24 333.28,221.3 331.88,222.35 330.46,223.37 329.04,224.39 327.61,225.41 326.19,226.43 324.76,227.44 323.31,228.43 321.84,229.39 320.35,230.3 318.81,231.15 317.24,231.93 315.64,232.65 314.02,233.34 312.4,234.02 310.8,234.74 309.22,235.51 307.66,236.31 306.11,237.13 304.57,237.97 303.02,238.81 301.48,239.64 299.93,240.47 298.38,241.27 296.83,242.06 295.27,242.82 293.69,243.55 292.08,244.23 290.43,244.82 288.76,245.36 287.09,245.9 285.43,246.48 283.79,247.09 282.15,247.72 280.5,248.33 278.85,248.92 277.18,249.47 275.5,249.97 273.79,250.39 272.07,250.75 270.34,251.06 268.61,251.36 266.88,251.67 265.16,252.01 263.44,252.36 261.72,252.69 260,253.03 258.28,253.4 256.58,253.83 254.9,254.33 253.23,254.88 251.58,255.48 249.95,256.13 248.33,256.81 246.74,257.56 245.18,258.36 243.64,259.22 242.14,260.11 240.65,261.04 239.18,262.01 237.76,263.03 236.37,264.12 235.04,265.25 233.76,266.46 232.55,267.73 231.38,269.04 230.28,270.4 229.2,271.79 228.14,273.19 227.1,274.6 226.06,276.01 225.02,277.42 223.96,278.82 222.88,280.2 221.77,281.57 220.66,282.92 219.53,284.27 218.4,285.61 217.26,286.95 216.11,288.28 214.96,289.6 213.78,290.91 212.6,292.21 211.39,293.49 210.15,294.72 208.82,295.87 207.38,296.87 205.91,297.83 204.41,298.73 202.87,299.56 201.29,300.33 199.68,301.02 198.03,301.6 196.36,302.13 194.69,302.66 193.03,303.23 191.37,303.79 189.7,304.34 188.02,304.86 186.33,305.33 184.63,305.76 182.93,306.2 181.24,306.68 179.56,307.18 177.88,307.69 176.2,308.21 174.52,308.73 172.85,309.26 171.18,309.8 169.51,310.36 167.86,310.94 166.21,311.54 164.56,312.14 162.91,312.72 161.24,313.27 159.58,313.83 157.94,314.47 156.36,315.22 154.82,316.07 153.31,316.97 151.82,317.9 150.36,318.87 148.99,319.96 147.77,321.21 146.7,322.6" fill="none" stroke="#008000" stroke-width="2.2" stroke-linejoin="round" stroke-linecap="round"/>
<polyline points="146.41,320.44 146.75,318.65 147.09,316.86 147.44,315.07 147.8,313.29 148.19,311.51 148.62,309.74 149.09,307.97 149.59,306.22 150.13,304.48 150.71,302.75 151.33,301.04 151.99,299.34 152.68,297.65 153.47,296.01 154.46,294.48 155.37,292.9 156.18,291.27 156.98,289.63 157.78,288 158.6,286.37 159.47,284.77 160.39,283.19 161.35,281.64 162.35,280.12 163.39,278.63 164.48,277.17 165.65,275.77 166.91,274.45 168.23,273.2 169.56,271.95 170.88,270.7 172.22,269.46 173.58,268.24 174.95,267.04 176.34,265.86 177.75,264.71 179.18,263.57 180.62,262.46 182.07,261.36 183.54,260.28 185.03,259.23 186.52,258.18 188.02,257.14 189.51,256.1 191.01,255.06 192.5,254.02 194.01,252.98 195.51,251.95 197.01,250.93 198.52,249.9 200.03,248.87 201.53,247.85 203.04,246.82 204.54,245.79 206.04,244.75 207.53,243.71 209.01,242.65 210.47,241.56 211.9,240.42 213.3,239.25 214.69,238.08 216.09,236.91 217.49,235.74 218.89,234.58 220.3,233.42 221.72,232.28 223.16,231.16 224.61,230.05 226.06,228.95 227.52,227.86 228.97,226.76 230.44,225.67 231.9,224.59 233.37,223.52 234.85,222.45 236.34,221.4 237.84,220.36 239.36,219.35 240.89,218.37 242.44,217.4 244,216.46 245.56,215.53 247.13,214.59 248.68,213.65 250.23,212.69 251.77,211.71 253.28,210.69 254.78,209.66 256.28,208.62 257.76,207.56 259.24,206.5 260.71,205.42 262.18,204.35 263.65,203.27 265.13,202.2 266.61,201.14 268.1,200.09 269.59,199.05 271.08,198 272.55,196.92 274.01,195.83 275.44,194.71 276.86,193.57 278.26,192.4 279.63,191.2 280.92,189.91 282.13,188.56 283.4,187.26 284.85,186.17 286.34,185.14 287.65,183.89 288.75,182.44 289.81,180.97 290.84,179.48 291.86,177.99 292.89,176.5 293.93,175.01 294.97,173.52 296,172.02 297,170.5 297.99,168.97 298.97,167.44 299.92,165.89 300.83,164.32 301.75,162.76 302.73,161.25 303.82,159.8 305,158.42 306.27,157.12 307.67,155.96 309.22,155.04 310.99,154.87 312.7,155.44 314.3,156.19 315.83,157.02 317.3,157.9 318.78,158.75 320.32,159.48 321.94,160.03 323.63,160.4 325.36,160.59 327.13,160.51 328.87,160.07 330.53,159.39 332.12,158.54 333.6,157.49 334.83,156.15 335.95,154.72 337.18,153.38 338.46,152.08 339.76,150.8 341.06,149.53 342.36,148.24 343.65,146.96 344.94,145.67 346.19,144.35 347.41,142.99 348.58,141.6 349.74,140.19 350.88,138.77 352.04,137.36 353.19,135.95 354.35,134.54 355.51,133.14 356.69,131.75 357.89,130.38 359.1,129.02 360.34,127.68 361.58,126.34 362.83,125.02 364.09,123.71 365.38,122.42 366.71,121.18 368.1,120.01 369.53,118.9 370.95,117.77 372.28,116.54 373.56,115.25 374.74,113.89 375.72,112.46 376.68,111.06 377.86,109.81 379.27,108.77 380.79,107.89 382.37,107.16 384.03,106.61 385.74,106.2 387.45,105.86 389.19,105.58 390.95,105.41 392.73,105.35 394.53,105.38 396.33,105.48 398.13,105.66 399.92,105.96 401.69,106.36 403.45,106.83 405.18,107.41 406.88,108.06 408.56,108.74 410.24,109.41 411.91,110.04 413.59,110.63 415.26,111.2 416.91,111.75 418.54,112.27 420.17,112.74 421.83,113.12 423.54,113.36 425.29,113.28 426.99,112.67 428.47,111.63 429.78,110.36 431,109.01 432.13,107.58 433.21,106.11 434.3,104.65 435.42,103.22 436.55,101.8 437.69,100.37 438.83,98.95 439.97,97.54 441.12,96.13 442.27,94.72 443.43,93.3 444.6,91.91 445.82,90.56 447.12,89.28 448.49,88.09 449.89,86.92 451.27,85.74 452.64,84.54 454.02,83.35 455.41,82.16 456.81,81 458.24,79.87 459.68,78.76 461.14,77.67 462.64,76.63 464.17,75.64 465.74,74.72 467.34,73.85 468.97,73.03 470.62,72.25 472.28,71.51 473.97,70.82 475.68,70.2 477.41,69.63 479.13,69.02 480.83,68.36 482.52,67.67 484.2,66.97 485.88,66.26 487.55,65.54 489.22,64.82 490.89,64.08 492.56,63.34 494.22,62.59 495.88,61.83 497.54,61.08 499.2,60.34 500.87,59.62 502.56,58.93 504.25,58.25 505.94,57.55 507.6,56.8 509.22,55.98 510.81,55.09 512.38,54.15 513.92,53.18 515.43,52.17 516.93,51.13 518.4,50.05 519.85,48.94 521.27,47.8 522.67,46.64 524.07,45.46 525.46,44.29 526.83,43.09 528.16,41.84 529.41,40.52 530.58,39.12 531.67,37.66 532.68,36.15 533.64,34.59 534.54,33.01 535.39,31.4 536.19,29.76 536.94,28.1 537.63,26.41 538.24,24.7 538.78,22.96 539.27,21.2 539.75,19.44 540.24,17.69 540.77,15.95 541.31,14.88 541.74,14 542.15,13.13 542.58,12.25" fill="none" stroke="#0000ff" stroke-width="2.2" stroke-linejoin="round" stroke-linecap="round"/>
<polyline points="542.58,12.25 542.42,14 542.26,15.76 542.09,17.51 541.9,19.26 541.69,21.01 541.47,22.75 541.22,24.49 540.95,26.23 540.67,27.96 540.38,29.69 540.09,31.42 539.78,33.15 539.45,34.88 539.05,36.59 538.43,38.23 537.73,39.84 537.06,41.47 536.33,43.07 535.63,44.69 534.98,46.32 534.35,47.97 533.73,49.62 533.12,51.27 532.51,52.92 531.89,54.56 531.25,56.21 530.6,57.84 529.93,59.47 529.23,61.09 528.52,62.7 527.79,64.3 527.05,65.9 526.28,67.48 525.5,69.05 524.7,70.62 523.89,72.18 523.06,73.72 522.2,75.26 521.32,76.77 520.41,78.27 519.47,79.75 518.5,81.22 517.49,82.66 516.45,84.07 515.37,85.47 514.26,86.83 513.13,88.18 511.98,89.52 510.83,90.85 509.65,92.16 508.45,93.44 507.24,94.72 506.04,96 504.87,97.32 503.72,98.65 502.55,99.97 501.33,101.24 500.06,102.46 498.74,103.63 497.43,104.8 496.17,106.03 494.97,107.32 493.78,108.61 492.55,109.86 491.25,111.05 489.92,112.21 488.58,113.33 487.22,114.44 485.86,115.55 484.49,116.66 483.1,117.73 481.68,118.77 480.23,119.77 478.74,120.71 477.25,121.64 475.75,122.57 474.25,123.49 472.74,124.4 471.23,125.31 469.72,126.22 468.22,127.13 466.71,128.04 465.21,128.96 463.7,129.87 462.2,130.79 460.69,131.7 459.17,132.59 457.65,133.47 456.12,134.34 454.58,135.2 453.04,136.06 451.51,136.92 449.97,137.79 448.45,138.66 446.91,139.53 445.38,140.4 443.85,141.27 442.33,142.14 440.8,143.03 439.29,143.92 437.78,144.84 436.29,145.77 434.81,146.73 433.33,147.68 431.85,148.64 430.38,149.59 428.93,150.57 427.52,151.6 426.17,152.72 424.88,153.9 423.63,155.14 422.4,156.4 421.19,157.67 419.98,158.95 418.79,160.25 417.6,161.55 416.4,162.83 415.17,164.09 413.91,165.32 412.63,166.52 411.33,167.7 410.02,168.87 408.71,170.04 407.41,171.21 406.1,172.39 404.79,173.56 403.48,174.73 402.18,175.91 400.89,177.11 399.63,178.34 398.39,179.59 397.17,180.86 395.97,182.15 394.78,183.45 393.59,184.75 392.41,186.05 391.22,187.35 390.03,188.64 388.84,189.94 387.65,191.23 386.46,192.52 385.27,193.81 384.06,195.09 382.82,196.34 381.56,197.56 380.25,198.74 378.95,199.91 377.6,200.99 375.93,201.52 374.19,201.76 372.44,201.92 370.69,202.06 368.95,202.25 367.25,202.48 365.57,202.72 363.94,202.97 362.36,203.23 360.82,203.57 359.29,204.02 357.74,204.61 356.19,205.35 354.65,206.18 353.12,207.05 351.6,207.93 350.08,208.81 348.56,209.71 347.04,210.6 345.53,211.5 344.02,212.42 342.52,213.33 341.01,214.25 339.51,215.17 338.02,216.09 336.53,217.01 335.04,217.94 333.54,218.86 332.05,219.77 330.54,220.68 329.04,221.58 327.53,222.49 326.02,223.39 324.51,224.28 323,225.17 321.46,226.03 319.92,226.86 318.35,227.66 316.75,228.4 315.14,229.12 313.53,229.84 311.93,230.57 310.35,231.34 308.79,232.16 307.25,233 305.71,233.87 304.19,234.75 302.68,235.65 301.17,236.56 299.68,237.49 298.22,238.45 296.78,239.45 295.35,240.45 293.88,241.39 292.33,242.19 290.69,242.83 288.99,243.32 287.3,243.79 285.62,244.31 283.95,244.86 282.28,245.41 280.6,245.96 278.92,246.48 277.23,246.98 275.53,247.44 273.82,247.83 272.09,248.17 270.36,248.48 268.62,248.79 266.89,249.11 265.17,249.48 263.46,249.89 261.74,250.3 260.04,250.72 258.34,251.18 256.65,251.69 254.99,252.25 253.33,252.86 251.69,253.5 250.06,254.17 248.46,254.88 246.87,255.65 245.32,256.48 243.8,257.37 242.32,258.33 240.87,259.32 239.45,260.36 238.06,261.44 236.71,262.57 235.39,263.73 234.1,264.93 232.84,266.16 231.63,267.43 230.45,268.74 229.29,270.07 228.16,271.41 227.04,272.77 225.92,274.13 224.8,275.49 223.68,276.84 222.55,278.19 221.41,279.53 220.27,280.87 219.13,282.22 218,283.56 216.86,284.91 215.71,286.24 214.55,287.57 213.38,288.88 212.19,290.18 210.98,291.46 209.74,292.71 208.44,293.9 207.07,295 205.66,296.06 204.22,297.05 202.73,297.98 201.2,298.86 199.65,299.67 198.05,300.39 196.42,301.06 194.79,301.72 193.16,302.37 191.52,303.01 189.86,303.6 188.18,304.14 186.48,304.57 184.76,304.93 183.03,305.3 181.33,305.74 179.63,306.21 177.95,306.72 176.26,307.24 174.59,307.79 172.93,308.37 171.27,308.96 169.6,309.52 167.92,310.03 166.23,310.51 164.54,310.99 162.85,311.49 161.16,311.97 159.47,312.47 157.81,313.06 156.2,313.76 154.62,314.55 153.08,315.39 151.56,316.28 150.09,317.26 148.79,318.44 147.68,319.79 146.7,321.25" fill="none" stroke="#0000ff" stroke-width="2.2" stroke-linejoin="round" stroke-linecap="round"/>
<polyline points="146.64,320.49 146.98,318.71 147.32,316.93 147.67,315.15 148.03,313.37 148.42,311.6 148.85,309.84 149.31,308.09 149.8,306.34 150.34,304.61 150.91,302.89 151.53,301.19 152.18,299.5 152.87,297.82 153.65,296.18 154.63,294.66 155.54,293.09 156.35,291.47 157.14,289.84 157.93,288.21 158.75,286.6 159.61,285 160.52,283.44 161.48,281.9 162.48,280.38 163.52,278.9 164.61,277.45 165.77,276.06 167.02,274.75 168.33,273.49 169.65,272.25 170.97,271 172.3,269.78 173.64,268.56 175,267.36 176.38,266.19 177.78,265.04 179.2,263.91 180.63,262.8 182.08,261.7 183.54,260.63 185.02,259.58 186.5,258.54 187.99,257.5 189.47,256.46 190.96,255.43 192.45,254.4 193.94,253.37 195.44,252.34 196.93,251.32 198.43,250.3 199.93,249.28 201.43,248.26 202.92,247.23 204.42,246.21 205.91,245.18 207.4,244.14 208.88,243.09 210.33,242.01 211.76,240.89 213.15,239.74 214.54,238.57 215.93,237.4 217.32,236.25 218.71,235.09 220.11,233.93 221.52,232.8 222.95,231.68 224.39,230.57 225.83,229.48 227.28,228.39 228.73,227.3 230.18,226.21 231.63,225.13 233.09,224.06 234.56,222.99 236.04,221.95 237.53,220.91 239.04,219.9 240.56,218.92 242.1,217.96 243.65,217.03 245.21,216.11 246.78,215.19 248.34,214.27 249.89,213.33 251.43,212.38 252.94,211.39 254.45,210.39 255.95,209.36 257.43,208.32 258.91,207.28 260.39,206.22 261.86,205.17 263.33,204.11 264.8,203.05 266.28,202 267.77,200.97 269.26,199.94 270.75,198.91 272.23,197.86 273.69,196.8 275.14,195.71 276.57,194.6 277.98,193.46 279.36,192.29 280.68,191.06 281.94,189.77 283.23,188.5 284.64,187.38 286.07,186.28 287.36,185.02 288.48,183.59 289.6,182.19 290.71,180.78 291.81,179.36 292.9,177.93 294,176.5 295.08,175.06 296.15,173.6 297.17,172.11 298.19,170.61 299.2,169.11 300.2,167.61 301.18,166.1 302.18,164.61 303.24,163.17 304.39,161.78 305.61,160.46 306.92,159.21 308.34,158.1 309.93,157.25 311.7,157.1 313.42,157.55 315.08,158.11 316.67,158.7 318.23,159.31 319.78,159.88 321.37,160.31 323.02,160.56 324.7,160.67 326.41,160.63 328.14,160.36 329.8,159.78 331.4,158.99 332.92,158.04 334.35,156.94 335.59,155.63 336.75,154.24 337.99,152.92 339.26,151.63 340.55,150.36 341.85,149.09 343.14,147.82 344.42,146.53 345.68,145.23 346.91,143.9 348.1,142.54 349.26,141.15 350.41,139.74 351.55,138.34 352.7,136.93 353.85,135.53 355,134.13 356.16,132.74 357.34,131.37 358.54,130.01 359.76,128.66 360.99,127.33 362.23,126.01 363.47,124.69 364.73,123.39 366.02,122.12 367.38,120.92 368.81,119.84 370.29,118.81 371.7,117.68 372.95,116.4 374.18,115.07 375.44,113.81 376.59,112.56 377.75,111.39 379.08,110.38 380.58,109.55 382.17,108.88 383.81,108.38 385.49,108.07 387.2,107.89 388.91,107.78 390.64,107.73 392.38,107.75 394.14,107.87 395.91,108.04 397.68,108.26 399.45,108.55 401.22,108.91 402.97,109.35 404.71,109.84 406.44,110.41 408.14,111.02 409.84,111.61 411.54,112.18 413.24,112.66 414.95,113.06 416.64,113.42 418.32,113.72 419.97,113.95 421.6,114.11 423.25,114.2 424.93,114.16 426.64,113.87 428.28,113.17 429.74,112.11 431.01,110.82 432.2,109.45 433.31,108.02 434.36,106.55 435.42,105.08 436.49,103.63 437.59,102.18 438.68,100.74 439.77,99.3 440.88,97.87 442,96.44 443.13,95.03 444.26,93.62 445.42,92.22 446.62,90.86 447.88,89.56 449.2,88.33 450.56,87.14 451.91,85.94 453.28,84.75 454.65,83.57 456.04,82.4 457.45,81.26 458.87,80.13 460.31,79.03 461.77,77.96 463.26,76.93 464.8,75.97 466.36,75.06 467.96,74.21 469.59,73.4 471.23,72.63 472.89,71.9 474.57,71.24 476.28,70.64 478,70.06 479.7,69.44 481.39,68.78 483.07,68.09 484.74,67.39 486.41,66.68 488.07,65.97 489.74,65.25 491.4,64.52 493.05,63.78 494.7,63.03 496.35,62.28 498,61.53 499.66,60.79 501.32,60.08 503,59.4 504.68,58.72 506.36,58.02 508.01,57.27 509.62,56.44 511.2,55.56 512.75,54.62 514.28,53.65 515.79,52.65 517.28,51.61 518.75,50.55 520.18,49.44 521.6,48.31 522.99,47.15 524.38,45.98 525.77,44.81 527.13,43.63 528.46,42.39 529.71,41.08 530.88,39.7 531.97,38.25 532.98,36.74 533.93,35.2 534.83,33.63 535.68,32.03 536.48,30.4 537.23,28.75 537.93,27.08 538.55,25.38 539.1,23.65 539.58,21.9 540.04,20.15 540.51,18.4 541.04,16.67 541.59,16.15 541.95,15.98 542.29,15.82 542.63,15.65" fill="none" stroke="#ff8000" stroke-width="2.2" stroke-linejoin="round" stroke-linecap="round"/>
<polyline points="542.63,15.65 542.5,17.4 542.36,19.16 542.19,20.91 541.98,22.65 541.75,24.4 541.5,26.13 541.2,27.86 540.87,29.58 540.51,31.3 540.15,33.01 539.79,34.72 539.43,36.44 539.05,38.15 538.62,39.85 538.03,41.51 537.37,43.13 536.73,44.77 536.05,46.39 535.37,48.01 534.73,49.65 534.1,51.29 533.48,52.93 532.85,54.58 532.22,56.22 531.58,57.86 530.93,59.49 530.27,61.12 529.58,62.74 528.88,64.35 528.15,65.95 527.4,67.54 526.63,69.12 525.83,70.69 525.01,72.24 524.17,73.78 523.3,75.3 522.42,76.81 521.5,78.3 520.55,79.77 519.58,81.23 518.59,82.67 517.57,84.1 516.52,85.51 515.45,86.89 514.35,88.26 513.22,89.61 512.08,90.95 510.93,92.29 509.77,93.6 508.58,94.9 507.35,96.15 506.11,97.39 504.89,98.66 503.72,99.97 502.57,101.3 501.4,102.62 500.18,103.89 498.91,105.1 497.6,106.27 496.28,107.44 495.01,108.66 493.78,109.91 492.56,111.17 491.29,112.38 489.97,113.54 488.62,114.66 487.23,115.74 485.84,116.8 484.45,117.86 483.04,118.91 481.62,119.94 480.18,120.95 478.72,121.92 477.23,122.85 475.73,123.78 474.24,124.7 472.74,125.62 471.24,126.54 469.73,127.46 468.23,128.37 466.72,129.27 465.21,130.17 463.7,131.08 462.19,131.98 460.68,132.88 459.17,133.77 457.65,134.66 456.11,135.52 454.58,136.38 453.04,137.23 451.5,138.08 449.97,138.94 448.44,139.82 446.93,140.71 445.42,141.61 443.91,142.51 442.4,143.41 440.88,144.31 439.37,145.2 437.86,146.1 436.35,147.01 434.86,147.94 433.39,148.9 431.93,149.88 430.48,150.87 429.04,151.87 427.65,152.92 426.3,154.03 425.02,155.21 423.78,156.45 422.57,157.71 421.38,159.01 420.19,160.3 419.02,161.61 417.86,162.92 416.69,164.24 415.51,165.54 414.32,166.83 413.09,168.09 411.85,169.33 410.6,170.55 409.34,171.77 408.07,172.98 406.81,174.2 405.54,175.41 404.27,176.62 402.99,177.82 401.72,179.03 400.46,180.26 399.22,181.5 398,182.77 396.79,184.04 395.59,185.33 394.39,186.62 393.21,187.92 392.04,189.23 390.87,190.55 389.72,191.87 388.58,193.2 387.44,194.53 386.3,195.86 385.15,197.19 383.97,198.49 382.74,199.74 381.45,200.94 380.11,202.07 378.75,203.16 377.34,204.16 375.68,204.73 373.97,205.06 372.22,205.26 370.47,205.38 368.74,205.47 367.03,205.52 365.36,205.54 363.76,205.5 362.21,205.43 360.69,205.42 359.16,205.52 357.58,205.84 355.98,206.41 354.4,207.15 352.85,207.98 351.31,208.83 349.78,209.68 348.25,210.54 346.72,211.42 345.21,212.32 343.7,213.23 342.2,214.15 340.71,215.08 339.24,216.04 337.78,217 336.32,217.98 334.87,218.96 333.42,219.94 331.97,220.92 330.51,221.88 329.04,222.83 327.57,223.79 326.1,224.74 324.62,225.69 323.14,226.62 321.63,227.52 320.11,228.39 318.55,229.21 316.97,229.97 315.36,230.69 313.75,231.39 312.14,232.1 310.55,232.85 308.98,233.64 307.43,234.47 305.89,235.32 304.36,236.18 302.83,237.05 301.31,237.93 299.79,238.81 298.29,239.71 296.81,240.61 295.32,241.5 293.8,242.35 292.22,243.1 290.57,243.72 288.89,244.22 287.2,244.73 285.53,245.28 283.88,245.85 282.22,246.44 280.56,247.01 278.89,247.56 277.21,248.09 275.52,248.56 273.81,248.97 272.08,249.32 270.35,249.63 268.62,249.93 266.89,250.25 265.17,250.61 263.45,250.99 261.73,251.36 260.02,251.75 258.31,252.17 256.62,252.64 254.95,253.17 253.29,253.76 251.64,254.38 250.01,255.04 248.4,255.74 246.81,256.5 245.25,257.31 243.73,258.19 242.24,259.12 240.77,260.09 239.33,261.1 237.93,262.15 236.56,263.25 235.23,264.41 233.95,265.61 232.71,266.86 231.52,268.15 230.37,269.48 229.25,270.83 228.15,272.2 227.07,273.58 225.98,274.96 224.9,276.34 223.81,277.72 222.69,279.08 221.57,280.43 220.44,281.78 219.31,283.13 218.18,284.48 217.04,285.82 215.89,287.15 214.73,288.48 213.56,289.79 212.37,291.08 211.16,292.36 209.92,293.6 208.61,294.77 207.21,295.83 205.77,296.84 204.3,297.8 202.79,298.69 201.24,299.52 199.66,300.27 198.04,300.93 196.4,301.54 194.75,302.14 193.1,302.75 191.45,303.36 189.79,303.93 188.11,304.46 186.41,304.91 184.7,305.3 182.99,305.7 181.29,306.15 179.6,306.64 177.92,307.15 176.24,307.67 174.56,308.21 172.89,308.77 171.23,309.33 169.56,309.89 167.89,310.43 166.22,310.97 164.55,311.5 162.88,312.04 161.19,312.55 159.52,313.07 157.87,313.69 156.27,314.41 154.71,315.23 153.18,316.09 151.67,317 150.21,317.97 148.88,319.11 147.72,320.42 146.7,321.85" fill="none" stroke="#ff8000" stroke-width="2.2" stroke-linejoin="round" stroke-linecap="round"/>
<polyline points="146.82,320.52 147.16,318.75 147.49,316.98 147.84,315.21 148.2,313.44 148.58,311.67 149.01,309.92 149.47,308.17 149.96,306.44 150.5,304.71 151.07,303 151.68,301.3 152.33,299.62 153.01,297.95 153.78,296.31 154.75,294.79 155.66,293.24 156.48,291.63 157.26,290 158.05,288.38 158.86,286.77 159.72,285.18 160.63,283.62 161.59,282.09 162.58,280.58 163.62,279.11 164.71,277.67 165.86,276.28 167.1,274.96 168.4,273.71 169.71,272.47 171.03,271.24 172.35,270.01 173.69,268.8 175.05,267.61 176.42,266.43 177.81,265.29 179.22,264.16 180.65,263.05 182.09,261.96 183.54,260.89 185.01,259.84 186.49,258.81 187.97,257.77 189.45,256.74 190.93,255.71 192.41,254.68 193.9,253.65 195.38,252.63 196.88,251.61 198.37,250.6 199.86,249.58 201.35,248.56 202.84,247.55 204.33,246.53 205.82,245.5 207.3,244.47 208.77,243.43 210.23,242.36 211.65,241.25 213.05,240.11 214.43,238.94 215.81,237.78 217.19,236.62 218.58,235.47 219.97,234.32 221.37,233.18 222.79,232.07 224.22,230.96 225.66,229.87 227.1,228.78 228.54,227.69 229.98,226.61 231.43,225.53 232.88,224.46 234.34,223.4 235.82,222.36 237.3,221.32 238.79,220.32 240.31,219.34 241.84,218.38 243.39,217.46 244.95,216.55 246.51,215.64 248.07,214.74 249.63,213.82 251.17,212.89 252.69,211.92 254.2,210.93 255.7,209.92 257.19,208.9 258.67,207.87 260.14,206.83 261.61,205.78 263.08,204.74 264.56,203.69 266.03,202.65 267.52,201.62 269,200.6 270.5,199.59 271.98,198.57 273.46,197.53 274.91,196.47 276.35,195.37 277.77,194.26 279.16,193.11 280.5,191.91 281.8,190.67 283.11,189.43 284.49,188.28 285.86,187.14 287.14,185.86 288.27,184.46 289.44,183.11 290.61,181.76 291.76,180.39 292.9,179.01 294.04,177.62 295.17,176.22 296.26,174.79 297.3,173.32 298.33,171.84 299.37,170.37 300.41,168.9 301.45,167.44 302.5,166 303.62,164.61 304.82,163.27 306.07,161.99 307.4,160.77 308.85,159.71 310.45,158.92 312.23,158.77 313.97,159.13 315.65,159.56 317.3,159.95 318.92,160.37 320.53,160.72 322.16,160.92 323.82,160.97 325.5,160.88 327.2,160.66 328.89,160.25 330.51,159.55 332.05,158.68 333.52,157.67 334.91,156.53 336.16,155.23 337.35,153.88 338.59,152.57 339.86,151.29 341.15,150.02 342.44,148.76 343.73,147.5 345,146.21 346.24,144.91 347.45,143.57 348.62,142.2 349.77,140.81 350.91,139.41 352.05,138.01 353.19,136.61 354.34,135.21 355.49,133.82 356.65,132.44 357.83,131.08 359.03,129.73 360.25,128.39 361.48,127.07 362.71,125.76 363.95,124.44 365.21,123.14 366.5,121.89 367.87,120.73 369.35,119.71 370.85,118.74 372.26,117.62 373.45,116.29 374.65,114.95 375.96,113.75 377.24,112.64 378.55,111.64 379.99,110.8 381.57,110.14 383.21,109.62 384.88,109.3 386.59,109.17 388.3,109.15 390.01,109.22 391.72,109.34 393.46,109.51 395.2,109.75 396.94,110.03 398.69,110.35 400.44,110.71 402.19,111.13 403.93,111.59 405.66,112.1 407.38,112.66 409.08,113.23 410.8,113.77 412.51,114.25 414.24,114.62 415.96,114.88 417.68,115.08 419.37,115.19 421.03,115.21 422.68,115.14 424.32,115.01 425.98,114.76 427.65,114.32 429.25,113.55 430.69,112.46 431.94,111.17 433.09,109.79 434.19,108.36 435.23,106.88 436.25,105.4 437.3,103.93 438.36,102.47 439.42,101.01 440.48,99.56 441.56,98.11 442.65,96.68 443.77,95.26 444.89,93.85 446.04,92.46 447.22,91.09 448.45,89.78 449.73,88.52 451.06,87.3 452.4,86.09 453.75,84.9 455.13,83.73 456.52,82.58 457.93,81.45 459.35,80.33 460.78,79.24 462.24,78.18 463.73,77.16 465.27,76.21 466.83,75.31 468.43,74.47 470.05,73.68 471.69,72.92 473.34,72.2 475.02,71.55 476.73,70.96 478.44,70.38 480.13,69.76 481.81,69.09 483.48,68.41 485.15,67.71 486.81,67 488.47,66.29 490.12,65.57 491.77,64.84 493.42,64.1 495.06,63.36 496.71,62.61 498.35,61.86 500,61.13 501.66,60.43 503.33,59.75 505.01,59.07 506.67,58.38 508.31,57.62 509.92,56.79 511.49,55.91 513.04,54.98 514.56,54.01 516.06,53.01 517.55,51.98 519,50.92 520.44,49.82 521.84,48.69 523.23,47.54 524.62,46.37 526,45.21 527.36,44.03 528.69,42.8 529.94,41.51 531.11,40.13 532.2,38.69 533.2,37.19 534.15,35.66 535.05,34.09 535.9,32.5 536.7,30.88 537.45,29.24 538.15,27.58 538.78,25.89 539.33,24.17 539.8,22.43 540.25,20.68 540.71,18.93 541.24,17.21 541.81,17.11 542.12,17.47 542.4,17.84 542.68,18.2" fill="none" stroke="#800000" stroke-width="2.2" stroke-linejoin="round" stroke-linecap="round"/>
<polyline points="542.68,18.2 542.56,19.95 542.43,21.71 542.27,23.46 542.05,25.2 541.8,26.94 541.52,28.67 541.19,30.39 540.81,32.1 540.39,33.8 539.98,35.5 539.57,37.2 539.17,38.9 538.75,40.61 538.29,42.3 537.72,43.96 537.1,45.6 536.48,47.24 535.83,48.87 535.18,50.5 534.54,52.14 533.91,53.78 533.28,55.42 532.65,57.06 532,58.69 531.35,60.33 530.69,61.96 530.02,63.58 529.32,65.19 528.61,66.8 527.87,68.39 527.11,69.98 526.32,71.54 525.5,73.09 524.64,74.63 523.77,76.14 522.87,77.65 521.93,79.13 520.97,80.59 519.98,82.02 518.96,83.45 517.93,84.86 516.88,86.26 515.8,87.64 514.7,89.01 513.58,90.36 512.44,91.7 511.3,93.04 510.15,94.36 508.98,95.67 507.77,96.95 506.52,98.18 505.26,99.4 504.03,100.65 502.85,101.96 501.71,103.3 500.54,104.61 499.32,105.87 498.04,107.08 496.74,108.26 495.43,109.43 494.14,110.63 492.89,111.86 491.64,113.08 490.35,114.27 489.01,115.4 487.63,116.49 486.23,117.54 484.81,118.57 483.39,119.59 481.96,120.6 480.52,121.6 479.06,122.58 477.58,123.53 476.09,124.45 474.6,125.38 473.1,126.3 471.61,127.23 470.11,128.15 468.61,129.06 467.11,129.97 465.6,130.88 464.09,131.78 462.57,132.67 461.06,133.56 459.54,134.45 458.02,135.33 456.5,136.2 454.96,137.06 453.42,137.9 451.88,138.75 450.34,139.6 448.81,140.46 447.29,141.35 445.79,142.25 444.29,143.17 442.8,144.09 441.3,145.01 439.8,145.93 438.29,146.83 436.78,147.72 435.28,148.63 433.78,149.56 432.32,150.53 430.87,151.52 429.44,152.54 428.04,153.59 426.69,154.69 425.39,155.85 424.16,157.08 422.96,158.35 421.77,159.65 420.61,160.96 419.45,162.28 418.3,163.6 417.15,164.93 416.01,166.26 414.85,167.58 413.67,168.88 412.48,170.17 411.27,171.44 410.05,172.69 408.83,173.94 407.6,175.19 406.36,176.43 405.12,177.67 403.88,178.91 402.63,180.14 401.38,181.37 400.15,182.62 398.92,183.88 397.71,185.15 396.5,186.42 395.3,187.71 394.11,189 392.93,190.3 391.76,191.61 390.61,192.94 389.48,194.29 388.38,195.65 387.28,197.01 386.18,198.37 385.06,199.72 383.9,201.03 382.67,202.29 381.37,203.47 380,204.56 378.6,205.59 377.15,206.54 375.5,207.14 373.8,207.53 372.06,207.76 370.31,207.87 368.57,207.88 366.87,207.79 365.2,207.66 363.62,207.39 362.1,207.07 360.6,206.8 359.07,206.64 357.46,206.75 355.82,207.21 354.21,207.88 352.65,208.68 351.1,209.5 349.55,210.33 348.01,211.17 346.48,212.04 344.97,212.93 343.46,213.83 341.97,214.76 340.49,215.71 339.03,216.69 337.6,217.69 336.17,218.71 334.75,219.73 333.34,220.76 331.91,221.77 330.48,222.78 329.04,223.77 327.59,224.76 326.15,225.75 324.7,226.74 323.24,227.7 321.76,228.64 320.25,229.54 318.71,230.38 317.13,231.15 315.53,231.87 313.91,232.56 312.3,233.25 310.7,233.98 309.13,234.76 307.57,235.58 306.02,236.41 304.48,237.25 302.95,238.11 301.41,238.96 299.88,239.8 298.35,240.65 296.82,241.48 295.29,242.29 293.74,243.07 292.14,243.78 290.49,244.38 288.81,244.9 287.13,245.43 285.47,246 283.82,246.6 282.17,247.2 280.52,247.8 278.86,248.38 277.19,248.92 275.51,249.41 273.8,249.82 272.08,250.18 270.35,250.49 268.62,250.79 266.89,251.1 265.16,251.45 263.44,251.81 261.72,252.16 260.01,252.52 258.29,252.91 256.6,253.35 254.92,253.86 253.25,254.43 251.61,255.04 249.97,255.69 248.36,256.39 246.77,257.13 245.21,257.94 243.68,258.81 242.18,259.72 240.7,260.66 239.24,261.65 237.83,262.68 236.45,263.77 235.11,264.91 233.84,266.12 232.61,267.38 231.44,268.68 230.32,270.03 229.22,271.4 228.15,272.79 227.09,274.19 226.03,275.59 224.97,276.99 223.9,278.38 222.8,279.75 221.69,281.11 220.57,282.47 219.44,283.81 218.31,285.16 217.17,286.5 216.02,287.83 214.87,289.15 213.69,290.46 212.51,291.76 211.3,293.04 210.05,294.28 208.73,295.43 207.31,296.45 205.86,297.44 204.36,298.36 202.84,299.21 201.27,300.01 199.67,300.72 198.03,301.33 196.38,301.89 194.72,302.45 193.06,303.04 191.4,303.62 189.74,304.18 188.06,304.7 186.36,305.16 184.66,305.58 182.96,306 181.26,306.47 179.58,306.96 177.89,307.47 176.21,307.99 174.54,308.52 172.87,309.06 171.2,309.61 169.53,310.17 167.87,310.74 166.21,311.31 164.56,311.89 162.9,312.45 161.22,312.98 159.55,313.53 157.91,314.15 156.32,314.9 154.78,315.73 153.26,316.62 151.76,317.54 150.3,318.51 148.95,319.62 147.75,320.9 146.7,322.3" fill="none" stroke="#800000" stroke-width="2.2" stroke-linejoin="round" stroke-linecap="round"/>
<polyline points="146.46,320.45 146.81,318.67 147.15,316.88 147.49,315.09 147.86,313.31 148.25,311.53 148.68,309.76 149.14,308 149.64,306.25 150.18,304.51 150.76,302.79 151.38,301.08 152.04,299.38 152.73,297.7 153.51,296.05 154.5,294.53 155.41,292.95 156.22,291.32 157.02,289.69 157.82,288.05 158.64,286.43 159.5,284.82 160.42,283.25 161.38,281.71 162.38,280.19 163.42,278.69 164.51,277.24 165.68,275.85 166.94,274.53 168.25,273.27 169.58,272.02 170.9,270.77 172.24,269.54 173.59,268.32 174.96,267.12 176.35,265.94 177.76,264.79 179.18,263.66 180.62,262.54 182.07,261.45 183.54,260.37 185.02,259.32 186.52,258.27 188.01,257.23 189.5,256.19 190.99,255.15 192.49,254.11 193.99,253.08 195.49,252.05 196.99,251.02 198.5,250 200,248.97 201.5,247.95 203.01,246.92 204.51,245.89 206,244.86 207.5,243.81 208.98,242.76 210.44,241.67 211.86,240.54 213.26,239.38 214.65,238.2 216.05,237.03 217.45,235.87 218.85,234.7 220.25,233.55 221.67,232.41 223.11,231.29 224.55,230.18 226,229.09 227.46,227.99 228.91,226.9 230.37,225.81 231.83,224.73 233.3,223.65 234.78,222.59 236.27,221.54 237.76,220.5 239.28,219.49 240.81,218.51 242.35,217.54 243.91,216.61 245.47,215.67 247.04,214.74 248.6,213.8 250.14,212.85 251.68,211.88 253.2,210.87 254.7,209.85 256.19,208.8 257.68,207.75 259.16,206.69 260.63,205.62 262.1,204.55 263.57,203.48 265.05,202.42 266.53,201.36 268.02,200.31 269.51,199.27 271,198.23 272.47,197.16 273.93,196.07 275.37,194.96 276.79,193.82 278.19,192.67 279.56,191.47 280.86,190.2 282.08,188.86 283.36,187.57 284.8,186.47 286.27,185.43 287.58,184.17 288.69,182.73 289.76,181.27 290.81,179.81 291.85,178.33 292.89,176.85 293.95,175.38 295,173.91 296.04,172.41 297.05,170.9 298.04,169.38 299.03,167.86 299.99,166.32 300.92,164.77 301.86,163.23 302.86,161.73 303.96,160.29 305.15,158.93 306.43,157.64 307.84,156.5 309.4,155.59 311.17,155.42 312.88,155.97 314.5,156.67 316.04,157.44 317.53,158.26 319.03,159.03 320.58,159.69 322.21,160.16 323.89,160.47 325.63,160.6 327.39,160.47 329.1,160 330.75,159.29 332.32,158.41 333.79,157.35 335.02,156.02 336.15,154.6 337.38,153.26 338.66,151.97 339.96,150.69 341.26,149.42 342.55,148.14 343.85,146.86 345.12,145.56 346.37,144.24 347.58,142.88 348.75,141.49 349.91,140.08 351.05,138.67 352.2,137.25 353.36,135.85 354.51,134.44 355.67,133.04 356.85,131.65 358.05,130.28 359.27,128.93 360.5,127.59 361.74,126.26 362.99,124.94 364.25,123.63 365.54,122.34 366.88,121.11 368.28,119.97 369.72,118.88 371.14,117.75 372.45,116.5 373.71,115.2 374.92,113.87 375.94,112.48 376.95,111.14 378.16,109.95 379.59,108.97 381.14,108.14 382.73,107.46 384.4,106.98 386.11,106.63 387.82,106.34 389.55,106.12 391.31,105.99 393.09,105.98 394.87,106.05 396.66,106.18 398.46,106.39 400.24,106.7 402.01,107.11 403.77,107.58 405.49,108.16 407.19,108.8 408.88,109.46 410.56,110.1 412.25,110.7 413.93,111.24 415.6,111.76 417.26,112.24 418.9,112.69 420.53,113.08 422.19,113.39 423.89,113.56 425.63,113.43 427.31,112.79 428.79,111.75 430.09,110.47 431.3,109.12 432.42,107.69 433.5,106.22 434.58,104.76 435.69,103.32 436.81,101.89 437.93,100.46 439.06,99.04 440.2,97.62 441.34,96.21 442.49,94.79 443.64,93.38 444.81,91.99 446.02,90.64 447.31,89.35 448.67,88.15 450.05,86.98 451.43,85.79 452.8,84.59 454.18,83.4 455.57,82.22 456.97,81.06 458.39,79.93 459.84,78.82 461.3,77.74 462.79,76.7 464.33,75.72 465.9,74.8 467.5,73.94 469.13,73.12 470.77,72.35 472.43,71.61 474.12,70.92 475.83,70.31 477.56,69.74 479.27,69.13 480.97,68.46 482.65,67.77 484.33,67.07 486.01,66.36 487.68,65.65 489.35,64.93 491.02,64.19 492.68,63.45 494.34,62.7 495.99,61.94 497.65,61.19 499.31,60.45 500.99,59.73 502.67,59.04 504.36,58.37 506.04,57.67 507.7,56.92 509.32,56.09 510.91,55.2 512.47,54.27 514.01,53.29 515.52,52.29 517.02,51.25 518.49,50.18 519.93,49.07 521.35,47.93 522.75,46.77 524.14,45.59 525.53,44.42 526.91,43.22 528.23,41.98 529.49,40.66 530.66,39.27 531.75,37.81 532.76,36.3 533.71,34.75 534.61,33.16 535.46,31.55 536.26,29.92 537.01,28.26 537.7,26.58 538.32,24.87 538.86,23.13 539.35,21.38 539.82,19.62 540.31,17.87 540.83,16.13 541.38,15.2 541.79,14.5 542.19,13.8 542.59,13.1" fill="none" stroke="#ff00ff" stroke-width="2.2" stroke-linejoin="round" stroke-linecap="round"/>
<polyline points="542.59,13.1 542.44,14.85 542.29,16.61 542.12,18.36 541.92,20.11 541.7,21.86 541.47,23.6 541.22,25.34 540.93,27.07 540.63,28.79 540.32,30.52 540.02,32.25 539.7,33.97 539.35,35.69 538.94,37.41 538.33,39.05 537.64,40.67 536.97,42.29 536.26,43.9 535.57,45.52 534.91,47.15 534.29,48.8 533.67,50.45 533.05,52.1 532.44,53.74 531.81,55.39 531.17,57.03 530.52,58.66 529.84,60.29 529.14,61.91 528.43,63.51 527.7,65.11 526.94,66.7 526.17,68.28 525.37,69.85 524.57,71.41 523.74,72.96 522.9,74.5 522.03,76.02 521.13,77.52 520.2,79.01 519.25,80.48 518.27,81.94 517.25,83.37 516.2,84.78 515.12,86.17 514,87.53 512.87,88.87 511.72,90.21 510.56,91.54 509.38,92.84 508.18,94.12 506.96,95.39 505.75,96.67 504.58,97.98 503.43,99.31 502.26,100.63 501.05,101.9 499.77,103.12 498.46,104.29 497.14,105.46 495.88,106.69 494.67,107.96 493.47,109.25 492.23,110.49 490.93,111.67 489.6,112.82 488.24,113.93 486.87,115.03 485.5,116.13 484.13,117.22 482.73,118.28 481.31,119.32 479.85,120.3 478.36,121.25 476.87,122.17 475.37,123.1 473.87,124.02 472.36,124.94 470.86,125.85 469.35,126.76 467.84,127.66 466.34,128.57 464.83,129.49 463.33,130.4 461.82,131.31 460.31,132.22 458.79,133.11 457.27,133.99 455.73,134.85 454.19,135.71 452.66,136.57 451.12,137.43 449.59,138.3 448.07,139.18 446.54,140.05 445.01,140.93 443.49,141.8 441.97,142.68 440.44,143.57 438.93,144.47 437.42,145.38 435.93,146.31 434.45,147.27 432.98,148.23 431.51,149.19 430.05,150.16 428.61,151.16 427.22,152.21 425.88,153.34 424.6,154.54 423.36,155.78 422.15,157.05 420.94,158.33 419.74,159.61 418.56,160.92 417.37,162.22 416.18,163.51 414.96,164.78 413.71,166.01 412.44,167.22 411.15,168.41 409.85,169.59 408.55,170.77 407.26,171.96 405.96,173.15 404.66,174.33 403.36,175.51 402.06,176.69 400.78,177.9 399.53,179.13 398.29,180.38 397.08,181.66 395.87,182.95 394.68,184.24 393.5,185.54 392.31,186.85 391.13,188.15 389.95,189.45 388.77,190.75 387.6,192.06 386.42,193.36 385.24,194.65 384.04,195.94 382.8,197.19 381.53,198.41 380.22,199.57 378.9,200.72 377.53,201.78 375.87,202.32 374.14,202.59 372.39,202.75 370.63,202.89 368.9,203.06 367.19,203.24 365.52,203.43 363.9,203.6 362.33,203.78 360.78,204.03 359.26,204.4 357.7,204.92 356.14,205.62 354.59,206.42 353.05,207.28 351.52,208.15 350,209.03 348.48,209.91 346.96,210.81 345.45,211.71 343.94,212.62 342.44,213.53 340.94,214.46 339.45,215.38 337.96,216.32 336.48,217.25 334.99,218.19 333.51,219.13 332.03,220.06 330.53,220.98 329.04,221.89 327.54,222.81 326.04,223.73 324.54,224.63 323.03,225.53 321.51,226.4 319.96,227.25 318.4,228.05 316.81,228.8 315.2,229.52 313.59,230.23 311.98,230.95 310.4,231.72 308.84,232.53 307.29,233.37 305.76,234.23 304.23,235.11 302.72,236 301.21,236.9 299.71,237.82 298.23,238.77 296.79,239.74 295.34,240.71 293.86,241.63 292.3,242.42 290.66,243.05 288.97,243.54 287.28,244.02 285.6,244.55 283.93,245.11 282.26,245.67 280.59,246.22 278.91,246.75 277.23,247.26 275.53,247.72 273.82,248.12 272.09,248.46 270.35,248.77 268.62,249.07 266.89,249.4 265.17,249.77 263.45,250.16 261.74,250.56 260.03,250.98 258.33,251.43 256.65,251.93 254.98,252.48 253.32,253.08 251.68,253.72 250.05,254.38 248.44,255.1 246.86,255.86 245.3,256.69 243.78,257.58 242.3,258.53 240.85,259.52 239.42,260.55 238.03,261.62 236.67,262.74 235.35,263.9 234.06,265.1 232.81,266.34 231.6,267.61 230.43,268.93 229.28,270.26 228.16,271.61 227.05,272.97 225.94,274.34 224.83,275.7 223.71,277.06 222.58,278.41 221.45,279.76 220.31,281.1 219.18,282.45 218.04,283.79 216.9,285.13 215.76,286.47 214.6,287.8 213.42,289.11 212.23,290.41 211.02,291.69 209.78,292.93 208.48,294.12 207.1,295.21 205.69,296.25 204.24,297.24 202.74,298.16 201.21,299.03 199.65,299.82 198.04,300.53 196.42,301.18 194.78,301.82 193.15,302.47 191.5,303.09 189.84,303.68 188.17,304.22 186.46,304.65 184.74,305.02 183.02,305.4 181.32,305.84 179.63,306.32 177.94,306.82 176.26,307.35 174.58,307.9 172.92,308.47 171.26,309.05 169.59,309.61 167.91,310.13 166.22,310.62 164.54,311.12 162.86,311.63 161.17,312.11 159.48,312.62 157.82,313.22 156.22,313.93 154.65,314.72 153.1,315.56 151.59,316.46 150.12,317.44 148.82,318.61 147.69,319.95 146.7,321.4" fill="none" stroke="#ff00ff" stroke-width="2.2" stroke-linejoin="round" stroke-linecap="round"/>
<polyline points="147.05,320.57 147.39,318.81 147.73,317.04 148.07,315.28 148.43,313.52 148.81,311.77 149.23,310.02 149.69,308.29 150.18,306.56 150.71,304.85 151.27,303.14 151.88,301.45 152.52,299.78 153.2,298.12 153.96,296.49 154.92,294.97 155.84,293.43 156.64,291.83 157.42,290.21 158.21,288.6 159.01,286.99 159.86,285.41 160.77,283.86 161.72,282.34 162.72,280.85 163.76,279.38 164.84,277.95 165.98,276.57 167.21,275.26 168.5,274.01 169.8,272.77 171.11,271.54 172.43,270.32 173.76,269.12 175.1,267.93 176.46,266.76 177.85,265.62 179.25,264.49 180.67,263.39 182.1,262.31 183.54,261.24 185,260.19 186.47,259.16 187.94,258.13 189.41,257.11 190.88,256.08 192.36,255.06 193.84,254.04 195.31,253.02 196.8,252.01 198.28,250.99 199.76,249.98 201.25,248.97 202.73,247.96 204.21,246.95 205.69,245.93 207.16,244.9 208.63,243.87 210.08,242.82 211.51,241.73 212.9,240.59 214.28,239.44 215.65,238.28 217.02,237.13 218.41,235.98 219.79,234.83 221.18,233.7 222.58,232.58 224,231.48 225.43,230.39 226.86,229.31 228.29,228.23 229.72,227.14 231.16,226.07 232.61,225 234.05,223.94 235.52,222.9 236.99,221.87 238.47,220.86 239.98,219.89 241.5,218.94 243.05,218.03 244.6,217.13 246.17,216.24 247.73,215.36 249.28,214.47 250.83,213.56 252.36,212.62 253.87,211.66 255.37,210.67 256.86,209.66 258.34,208.65 259.82,207.63 261.29,206.6 262.76,205.57 264.23,204.54 265.7,203.51 267.18,202.5 268.67,201.49 270.16,200.5 271.66,199.5 273.14,198.5 274.61,197.47 276.05,196.4 277.48,195.32 278.89,194.2 280.26,193.06 281.61,191.87 282.94,190.68 284.28,189.49 285.59,188.28 286.85,186.99 288,185.62 289.23,184.33 290.48,183.05 291.71,181.76 292.91,180.45 294.11,179.12 295.28,177.76 296.4,176.37 297.47,174.93 298.52,173.47 299.6,172.04 300.7,170.63 301.8,169.22 302.93,167.85 304.13,166.53 305.39,165.26 306.69,164.03 308.05,162.87 309.52,161.85 311.16,161.14 312.93,161 314.69,161.24 316.43,161.48 318.14,161.63 319.84,161.78 321.53,161.84 323.22,161.75 324.9,161.5 326.58,161.15 328.25,160.69 329.9,160.1 331.45,159.26 332.92,158.27 334.32,157.17 335.66,155.98 336.92,154.71 338.15,153.4 339.4,152.11 340.66,150.84 341.94,149.58 343.23,148.33 344.51,147.07 345.76,145.78 346.98,144.47 348.16,143.12 349.31,141.74 350.45,140.35 351.58,138.96 352.72,137.57 353.86,136.18 354.99,134.79 356.14,133.41 357.31,132.04 358.49,130.69 359.69,129.36 360.9,128.04 362.13,126.73 363.36,125.42 364.59,124.11 365.84,122.82 367.14,121.59 368.54,120.47 370.06,119.54 371.61,118.65 373.01,117.54 374.12,116.14 375.27,114.78 376.66,113.67 378.11,112.75 379.61,111.98 381.21,111.37 382.88,110.92 384.59,110.61 386.32,110.52 388.04,110.63 389.77,110.84 391.47,111.15 393.17,111.49 394.89,111.86 396.6,112.26 398.32,112.69 400.04,113.13 401.77,113.59 403.49,114.08 405.21,114.59 406.92,115.11 408.63,115.66 410.35,116.19 412.07,116.65 413.81,117.02 415.57,117.24 417.32,117.31 419.07,117.3 420.78,117.16 422.46,116.89 424.11,116.52 425.74,116.08 427.37,115.57 428.99,114.92 430.55,114.06 431.95,112.94 433.17,111.64 434.29,110.23 435.37,108.8 436.39,107.32 437.37,105.82 438.37,104.34 439.39,102.86 440.41,101.38 441.43,99.91 442.46,98.44 443.53,97 444.62,95.57 445.73,94.16 446.86,92.77 448.01,91.4 449.21,90.06 450.45,88.77 451.73,87.51 453.04,86.29 454.39,85.11 455.77,83.95 457.16,82.82 458.57,81.71 459.98,80.6 461.41,79.52 462.87,78.47 464.36,77.47 465.89,76.53 467.46,75.66 469.05,74.83 470.66,74.05 472.3,73.3 473.95,72.59 475.63,71.97 477.33,71.4 479.03,70.81 480.71,70.18 482.37,69.51 484.03,68.83 485.69,68.13 487.34,67.43 488.99,66.72 490.63,66 492.28,65.28 493.91,64.54 495.55,63.8 497.18,63.05 498.82,62.31 500.46,61.59 502.11,60.89 503.78,60.22 505.44,59.54 507.09,58.85 508.72,58.09 510.31,57.26 511.88,56.38 513.41,55.45 514.93,54.48 516.42,53.49 517.9,52.47 519.35,51.41 520.77,50.32 522.17,49.19 523.56,48.05 524.93,46.89 526.3,45.74 527.66,44.56 528.99,43.35 530.24,42.07 531.41,40.71 532.5,39.28 533.5,37.79 534.45,36.27 535.34,34.71 536.19,33.13 536.99,31.52 537.75,29.89 538.45,28.24 539.09,26.57 539.65,24.86 540.11,23.13 540.54,21.38 540.98,19.64 541.51,17.93 542.09,18.39 542.33,19.45 542.53,20.53 542.74,21.6" fill="none" stroke="#008080" stroke-width="2.2" stroke-linejoin="round" stroke-linecap="round"/>
<polyline points="542.74,21.6 542.64,23.35 542.53,25.1 542.37,26.85 542.14,28.59 541.86,30.33 541.55,32.05 541.17,33.76 540.72,35.46 540.24,37.14 539.75,38.82 539.28,40.5 538.82,42.19 538.35,43.88 537.86,45.57 537.32,47.23 536.74,48.89 536.16,50.54 535.55,52.19 534.92,53.83 534.29,55.46 533.66,57.1 533.02,58.74 532.37,60.37 531.71,62 531.05,63.62 530.37,65.24 529.68,66.85 528.98,68.46 528.25,70.06 527.5,71.65 526.72,73.22 525.9,74.77 525.05,76.3 524.16,77.81 523.23,79.3 522.28,80.77 521.29,82.22 520.26,83.63 519.21,85.02 518.13,86.4 517.05,87.78 515.95,89.14 514.83,90.49 513.7,91.83 512.55,93.16 511.4,94.49 510.25,95.81 509.09,97.13 507.92,98.43 506.7,99.69 505.42,100.89 504.13,102.08 502.87,103.31 501.7,104.61 500.56,105.95 499.39,107.26 498.16,108.51 496.89,109.72 495.59,110.9 494.28,112.07 492.99,113.26 491.7,114.45 490.41,115.64 489.1,116.79 487.73,117.89 486.33,118.94 484.89,119.94 483.44,120.92 481.98,121.9 480.52,122.86 479.04,123.81 477.56,124.75 476.07,125.68 474.58,126.59 473.08,127.51 471.59,128.43 470.1,129.36 468.6,130.29 467.11,131.21 465.61,132.12 464.1,133.02 462.59,133.91 461.07,134.79 459.55,135.67 458.03,136.54 456.5,137.41 454.97,138.27 453.43,139.11 451.88,139.94 450.34,140.77 448.8,141.62 447.27,142.48 445.76,143.38 444.27,144.3 442.79,145.25 441.32,146.2 439.85,147.15 438.36,148.09 436.86,149 435.35,149.89 433.84,150.79 432.35,151.72 430.9,152.7 429.46,153.71 428.06,154.77 426.71,155.87 425.41,157.04 424.18,158.28 423,159.57 421.86,160.89 420.72,162.22 419.58,163.56 418.46,164.91 417.34,166.26 416.22,167.61 415.09,168.95 413.96,170.29 412.81,171.62 411.66,172.94 410.49,174.25 409.32,175.55 408.14,176.84 406.96,178.13 405.76,179.42 404.56,180.69 403.35,181.96 402.14,183.23 400.93,184.49 399.72,185.76 398.52,187.04 397.32,188.32 396.12,189.6 394.91,190.88 393.72,192.17 392.55,193.47 391.39,194.79 390.26,196.14 389.17,197.51 388.11,198.91 387.07,200.31 386.02,201.72 384.94,203.1 383.81,204.43 382.58,205.69 381.26,206.85 379.86,207.89 378.4,208.84 376.89,209.71 375.26,210.36 373.57,210.82 371.85,211.1 370.09,211.19 368.36,211.09 366.66,210.83 365,210.47 363.43,209.92 361.95,209.27 360.48,208.64 358.94,208.13 357.3,207.97 355.6,208.27 353.96,208.85 352.38,209.61 350.82,210.4 349.25,211.19 347.7,212.01 346.16,212.86 344.64,213.74 343.14,214.64 341.65,215.58 340.19,216.55 338.76,217.56 337.35,218.61 335.97,219.68 334.59,220.76 333.22,221.84 331.84,222.92 330.44,223.97 329.04,225.02 327.63,226.06 326.22,227.1 324.81,228.14 323.38,229.15 321.93,230.13 320.44,231.07 318.92,231.93 317.35,232.71 315.75,233.43 314.13,234.11 312.51,234.79 310.9,235.5 309.32,236.25 307.75,237.04 306.2,237.86 304.65,238.68 303.1,239.51 301.55,240.33 299.99,241.13 298.42,241.9 296.84,242.64 295.26,243.35 293.65,244.03 292.03,244.68 290.37,245.27 288.7,245.81 287.04,246.37 285.39,246.96 283.75,247.59 282.12,248.23 280.48,248.85 278.83,249.46 277.17,250.03 275.49,250.53 273.79,250.96 272.07,251.32 270.34,251.64 268.61,251.93 266.88,252.24 265.16,252.57 263.44,252.91 261.71,253.22 259.99,253.55 258.27,253.9 256.56,254.3 254.88,254.79 253.21,255.33 251.56,255.93 249.92,256.56 248.3,257.24 246.71,257.98 245.15,258.78 243.61,259.63 242.09,260.51 240.6,261.42 239.12,262.38 237.69,263.39 236.3,264.46 234.96,265.59 233.69,266.8 232.48,268.08 231.33,269.4 230.24,270.77 229.18,272.17 228.14,273.58 227.12,275 226.1,276.43 225.06,277.85 224.02,279.26 222.95,280.65 221.85,282.02 220.74,283.38 219.62,284.73 218.49,286.07 217.35,287.41 216.2,288.74 215.05,290.06 213.87,291.36 212.69,292.66 211.48,293.94 210.24,295.17 208.9,296.31 207.44,297.28 205.97,298.22 204.45,299.1 202.9,299.92 201.31,300.66 199.69,301.32 198.03,301.87 196.35,302.36 194.67,302.87 193,303.42 191.34,303.97 189.67,304.51 187.99,305.02 186.3,305.5 184.6,305.95 182.91,306.4 181.22,306.89 179.54,307.39 177.86,307.9 176.19,308.42 174.51,308.94 172.83,309.45 171.16,309.99 169.49,310.55 167.85,311.15 166.21,311.77 164.57,312.39 162.92,313 161.26,313.56 159.6,314.13 157.97,314.78 156.4,315.55 154.87,316.41 153.36,317.32 151.88,318.26 150.42,319.22 149.03,320.3 147.79,321.53 146.7,322.9" fill="none" stroke="#008080" stroke-width="2.2" stroke-linejoin="round" stroke-linecap="round"/>
<polyline points="146.58,320.48 146.92,318.69 147.26,316.91 147.61,315.13 147.97,313.35 148.36,311.58 148.79,309.81 149.25,308.06 149.75,306.31 150.29,304.58 150.86,302.86 151.48,301.15 152.13,299.46 152.83,297.78 153.6,296.14 154.58,294.62 155.49,293.05 156.31,291.42 157.1,289.79 157.89,288.16 158.71,286.54 159.57,284.94 160.49,283.37 161.45,281.83 162.45,280.32 163.49,278.83 164.58,277.38 165.74,275.99 166.99,274.67 168.3,273.42 169.62,272.17 170.95,270.93 172.28,269.7 173.63,268.48 174.99,267.28 176.37,266.11 177.77,264.95 179.2,263.83 180.63,262.71 182.08,261.62 183.54,260.54 185.02,259.49 186.51,258.45 187.99,257.41 189.48,256.37 190.97,255.34 192.46,254.3 193.96,253.27 195.46,252.24 196.95,251.22 198.45,250.2 199.95,249.18 201.45,248.15 202.95,247.13 204.45,246.1 205.94,245.07 207.43,244.03 208.91,242.98 210.37,241.9 211.79,240.78 213.19,239.62 214.58,238.45 215.97,237.28 217.36,236.12 218.76,234.96 220.16,233.81 221.57,232.67 223,231.55 224.44,230.44 225.89,229.35 227.34,228.25 228.79,227.16 230.24,226.08 231.7,224.99 233.16,223.92 234.63,222.86 236.12,221.81 237.61,220.77 239.12,219.77 240.64,218.78 242.18,217.82 243.74,216.89 245.3,215.96 246.86,215.04 248.42,214.12 249.97,213.17 251.51,212.21 253.03,211.22 254.54,210.21 256.03,209.18 257.51,208.13 258.99,207.08 260.47,206.02 261.94,204.96 263.41,203.9 264.88,202.84 266.36,201.79 267.85,200.75 269.34,199.72 270.83,198.68 272.31,197.63 273.77,196.56 275.22,195.46 276.64,194.34 278.05,193.2 279.43,192.02 280.74,190.77 281.99,189.47 283.27,188.19 284.7,187.08 286.14,186 287.43,184.73 288.55,183.3 289.65,181.88 290.74,180.46 291.82,179.02 292.9,177.57 293.98,176.13 295.06,174.68 296.11,173.21 297.13,171.71 298.14,170.2 299.14,168.69 300.13,167.18 301.09,165.66 302.07,164.15 303.11,162.69 304.25,161.29 305.46,159.95 306.75,158.68 308.17,157.57 309.75,156.7 311.52,156.54 313.24,157.02 314.88,157.63 316.46,158.28 318,158.96 319.53,159.6 321.11,160.1 322.75,160.43 324.43,160.61 326.15,160.62 327.89,160.4 329.57,159.85 331.18,159.09 332.72,158.16 334.16,157.08 335.4,155.76 336.55,154.36 337.79,153.03 339.06,151.74 340.35,150.47 341.65,149.2 342.94,147.92 344.23,146.64 345.5,145.34 346.73,144.02 347.93,142.65 349.09,141.26 350.24,139.86 351.39,138.45 352.53,137.04 353.68,135.64 354.84,134.23 356,132.84 357.18,131.46 358.38,130.1 359.59,128.75 360.82,127.42 362.06,126.09 363.31,124.77 364.57,123.47 365.86,122.19 367.21,120.98 368.63,119.89 370.1,118.83 371.51,117.71 372.78,116.43 374.02,115.12 375.27,113.83 376.37,112.54 377.48,111.31 378.77,110.24 380.25,109.36 381.83,108.64 383.45,108.07 385.13,107.71 386.84,107.47 388.55,107.3 390.27,107.19 392.02,107.17 393.79,107.24 395.56,107.38 397.34,107.57 399.12,107.83 400.89,108.17 402.65,108.6 404.4,109.09 406.12,109.66 407.82,110.28 409.52,110.9 411.21,111.48 412.91,112 414.61,112.45 416.3,112.86 417.96,113.22 419.61,113.53 421.25,113.77 422.9,113.93 424.58,113.96 426.3,113.72 427.96,113.05 429.42,111.99 430.71,110.71 431.9,109.34 433.01,107.91 434.07,106.44 435.14,104.97 436.23,103.52 437.33,102.09 438.43,100.65 439.53,99.21 440.65,97.78 441.78,96.36 442.91,94.95 444.05,93.54 445.22,92.14 446.42,90.79 447.69,89.49 449.02,88.27 450.39,87.08 451.75,85.89 453.12,84.69 454.5,83.51 455.88,82.34 457.29,81.19 458.71,80.07 460.15,78.96 461.61,77.89 463.11,76.86 464.64,75.89 466.21,74.97 467.81,74.12 469.43,73.31 471.08,72.54 472.74,71.8 474.42,71.13 476.13,70.53 477.85,69.95 479.56,69.34 481.25,68.67 482.93,67.98 484.6,67.29 486.28,66.58 487.94,65.86 489.61,65.14 491.27,64.41 492.93,63.67 494.58,62.92 496.23,62.17 497.89,61.42 499.54,60.68 501.21,59.96 502.89,59.28 504.58,58.6 506.25,57.91 507.9,57.15 509.52,56.33 511.1,55.44 512.66,54.51 514.19,53.53 515.7,52.53 517.19,51.49 518.66,50.42 520.1,49.32 521.52,48.18 522.91,47.02 524.3,45.85 525.69,44.68 527.06,43.49 528.38,42.25 529.64,40.94 530.81,39.55 531.9,38.1 532.91,36.6 533.86,35.05 534.76,33.47 535.61,31.87 536.41,30.24 537.16,28.59 537.85,26.91 538.47,25.21 539.02,23.48 539.5,21.73 539.96,19.97 540.44,18.22 540.97,16.49 541.52,15.83 541.9,15.49 542.26,15.14 542.62,14.8" fill="none" stroke="#800080" stroke-width="2.2" stroke-linejoin="round" stroke-linecap="round"/>
<polyline points="542.62,14.8 542.48,16.55 542.34,18.31 542.17,20.06 541.96,21.81 541.74,23.55 541.49,25.29 541.21,27.02 540.89,28.75 540.55,30.46 540.21,32.18 539.87,33.9 539.52,35.62 539.15,37.33 538.73,39.04 538.13,40.69 537.46,42.31 536.81,43.94 536.12,45.56 535.44,47.18 534.79,48.81 534.16,50.46 533.54,52.1 532.92,53.75 532.29,55.39 531.66,57.03 531.01,58.67 530.35,60.3 529.67,61.92 528.97,63.54 528.24,65.14 527.5,66.73 526.73,68.32 525.94,69.89 525.13,71.44 524.3,72.99 523.45,74.52 522.58,76.04 521.67,77.54 520.74,79.02 519.79,80.49 518.81,81.94 517.8,83.38 516.77,84.79 515.7,86.19 514.61,87.56 513.48,88.92 512.34,90.26 511.2,91.59 510.03,92.91 508.85,94.21 507.63,95.47 506.39,96.72 505.18,98 504,99.31 502.86,100.64 501.69,101.96 500.47,103.23 499.2,104.44 497.88,105.61 496.57,106.78 495.3,108 494.08,109.26 492.86,110.53 491.6,111.75 490.29,112.92 488.94,114.04 487.57,115.13 486.19,116.21 484.8,117.28 483.4,118.35 481.99,119.39 480.56,120.4 479.1,121.38 477.61,122.32 476.11,123.24 474.61,124.17 473.11,125.09 471.61,126.01 470.11,126.92 468.6,127.83 467.09,128.74 465.59,129.64 464.08,130.55 462.57,131.45 461.06,132.36 459.55,133.26 458.03,134.14 456.5,135.01 454.96,135.87 453.42,136.72 451.88,137.58 450.35,138.44 448.83,139.32 447.31,140.2 445.79,141.09 444.28,141.98 442.76,142.87 441.25,143.77 439.73,144.66 438.21,145.55 436.71,146.46 435.22,147.4 433.74,148.36 432.28,149.33 430.82,150.31 429.38,151.3 427.97,152.33 426.61,153.42 425.31,154.59 424.06,155.81 422.83,157.07 421.63,158.35 420.44,159.64 419.26,160.94 418.09,162.25 416.92,163.57 415.73,164.87 414.53,166.15 413.3,167.4 412.05,168.62 410.78,169.84 409.51,171.04 408.23,172.25 406.96,173.45 405.68,174.66 404.4,175.85 403.12,177.05 401.84,178.25 400.57,179.47 399.32,180.71 398.1,181.97 396.88,183.25 395.68,184.53 394.49,185.83 393.31,187.13 392.13,188.44 390.96,189.75 389.79,191.06 388.64,192.38 387.49,193.71 386.34,195.03 385.18,196.34 383.99,197.64 382.76,198.89 381.48,200.1 380.14,201.23 378.8,202.34 377.4,203.37 375.75,203.93 374.02,204.23 372.28,204.42 370.52,204.55 368.79,204.66 367.09,204.76 365.41,204.84 363.8,204.86 362.25,204.88 360.72,204.96 359.19,205.14 357.62,205.53 356.03,206.15 354.46,206.91 352.92,207.74 351.38,208.6 349.85,209.46 348.32,210.33 346.8,211.22 345.29,212.11 343.78,213.02 342.28,213.94 340.79,214.87 339.31,215.82 337.84,216.78 336.37,217.74 334.91,218.71 333.45,219.67 331.99,220.63 330.52,221.58 329.04,222.52 327.56,223.46 326.08,224.4 324.6,225.33 323.1,226.25 321.59,227.15 320.06,228.01 318.5,228.82 316.91,229.58 315.31,230.3 313.7,231 312.09,231.72 310.5,232.47 308.93,233.27 307.38,234.11 305.85,234.96 304.32,235.83 302.79,236.7 301.27,237.59 299.76,238.48 298.27,239.39 296.8,240.32 295.33,241.24 293.82,242.11 292.24,242.87 290.6,243.5 288.92,244 287.23,244.49 285.56,245.03 283.89,245.61 282.23,246.18 280.57,246.75 278.9,247.29 277.22,247.81 275.52,248.28 273.81,248.69 272.08,249.03 270.35,249.34 268.62,249.64 266.89,249.96 265.17,250.33 263.45,250.71 261.74,251.09 260.02,251.49 258.32,251.92 256.63,252.4 254.96,252.94 253.3,253.53 251.66,254.16 250.03,254.82 248.41,255.53 246.83,256.29 245.27,257.1 243.75,257.99 242.26,258.92 240.8,259.9 239.36,260.91 237.96,261.97 236.6,263.08 235.27,264.24 233.98,265.44 232.74,266.69 231.54,267.97 230.39,269.3 229.26,270.64 228.15,272 227.06,273.38 225.97,274.75 224.87,276.13 223.77,277.5 222.66,278.86 221.53,280.21 220.4,281.56 219.27,282.9 218.13,284.25 216.99,285.59 215.84,286.92 214.69,288.25 213.51,289.56 212.32,290.86 211.12,292.14 209.87,293.38 208.56,294.55 207.17,295.62 205.75,296.65 204.28,297.61 202.77,298.51 201.23,299.35 199.66,300.12 198.04,300.8 196.4,301.42 194.76,302.03 193.12,302.66 191.47,303.27 189.81,303.85 188.13,304.38 186.43,304.82 184.71,305.21 183,305.6 181.3,306.05 179.61,306.53 177.92,307.04 176.24,307.56 174.57,308.1 172.9,308.67 171.24,309.24 169.57,309.8 167.9,310.33 166.22,310.85 164.55,311.38 162.87,311.9 161.18,312.4 159.5,312.92 157.85,313.53 156.25,314.25 154.69,315.06 153.15,315.91 151.64,316.82 150.18,317.79 148.86,318.94 147.71,320.26 146.7,321.7" fill="none" stroke="#800080" stroke-width="2.2" stroke-linejoin="round" stroke-linecap="round"/>
<polyline points="147.11,320.58 147.45,318.82 147.78,317.06 148.13,315.3 148.48,313.54 148.87,311.79 149.29,310.05 149.74,308.32 150.23,306.59 150.76,304.88 151.32,303.18 151.93,301.49 152.57,299.82 153.25,298.16 154,296.53 154.96,295.02 155.88,293.48 156.68,291.88 157.47,290.26 158.25,288.65 159.05,287.05 159.9,285.47 160.8,283.92 161.76,282.4 162.75,280.91 163.79,279.45 164.87,278.02 166.01,276.64 167.24,275.33 168.52,274.08 169.83,272.85 171.13,271.62 172.44,270.4 173.77,269.2 175.12,268.01 176.48,266.84 177.86,265.7 179.26,264.58 180.67,263.48 182.1,262.39 183.54,261.32 184.99,260.28 186.46,259.25 187.93,258.22 189.4,257.2 190.87,256.17 192.35,255.15 193.82,254.13 195.3,253.12 196.78,252.1 198.26,251.09 199.74,250.08 201.22,249.07 202.7,248.06 204.18,247.05 205.66,246.04 207.13,245.01 208.6,243.98 210.05,242.93 211.47,241.84 212.87,240.71 214.24,239.56 215.61,238.4 216.98,237.25 218.36,236.11 219.74,234.96 221.13,233.83 222.53,232.71 223.95,231.61 225.37,230.53 226.8,229.44 228.23,228.36 229.66,227.28 231.09,226.2 232.54,225.14 233.98,224.08 235.44,223.04 236.91,222.01 238.39,221 239.9,220.03 241.42,219.08 242.96,218.17 244.52,217.28 246.08,216.4 247.64,215.52 249.2,214.63 250.75,213.73 252.27,212.79 253.79,211.84 255.29,210.85 256.78,209.86 258.26,208.85 259.74,207.83 261.21,206.81 262.68,205.78 264.15,204.75 265.62,203.73 267.1,202.72 268.58,201.71 270.08,200.72 271.57,199.74 273.07,198.75 274.53,197.72 275.98,196.66 277.41,195.58 278.82,194.48 280.21,193.34 281.56,192.17 282.9,190.99 284.23,189.79 285.52,188.56 286.77,187.28 287.93,185.91 289.18,184.63 290.44,183.38 291.69,182.11 292.91,180.81 294.12,179.49 295.31,178.15 296.44,176.76 297.52,175.33 298.57,173.88 299.65,172.46 300.77,171.06 301.89,169.67 303.04,168.31 304.26,167.01 305.53,165.76 306.84,164.54 308.21,163.39 309.69,162.39 311.33,161.69 313.11,161.56 314.87,161.77 316.62,161.96 318.35,162.05 320.07,162.13 321.78,162.12 323.48,161.96 325.17,161.64 326.85,161.22 328.51,160.7 330.15,160.06 331.68,159.18 333.14,158.17 334.52,157.04 335.85,155.85 337.11,154.58 338.35,153.28 339.6,152 340.86,150.73 342.14,149.47 343.42,148.22 344.7,146.96 345.95,145.68 347.17,144.36 348.34,143.01 349.49,141.63 350.62,140.24 351.75,138.85 352.89,137.46 354.02,136.07 355.16,134.69 356.3,133.31 357.47,131.95 358.65,130.6 359.85,129.27 361.07,127.95 362.29,126.64 363.52,125.34 364.75,124.03 366,122.74 367.3,121.51 368.7,120.4 370.24,119.5 371.8,118.63 373.2,117.52 374.28,116.11 375.43,114.73 376.83,113.65 378.33,112.77 379.88,112.06 381.51,111.51 383.21,111.11 384.94,110.86 386.68,110.82 388.41,110.99 390.14,111.26 391.84,111.63 393.54,112.03 395.25,112.44 396.96,112.89 398.67,113.35 400.38,113.83 402.1,114.31 403.81,114.81 405.53,115.33 407.24,115.87 408.95,116.41 410.66,116.92 412.39,117.37 414.14,117.71 415.9,117.89 417.66,117.92 419.41,117.86 421.13,117.65 422.82,117.31 424.46,116.86 426.1,116.35 427.72,115.77 429.33,115.07 430.87,114.19 432.26,113.06 433.48,111.75 434.59,110.35 435.67,108.91 436.67,107.43 437.65,105.93 438.64,104.44 439.65,102.96 440.65,101.47 441.66,99.99 442.69,98.53 443.75,97.08 444.83,95.65 445.94,94.24 447.06,92.85 448.21,91.47 449.4,90.13 450.62,88.83 451.89,87.56 453.2,86.34 454.55,85.16 455.93,84.01 457.32,82.88 458.73,81.77 460.14,80.67 461.57,79.59 463.02,78.54 464.52,77.55 466.05,76.61 467.61,75.74 469.2,74.92 470.82,74.14 472.45,73.39 474.1,72.69 475.78,72.07 477.48,71.51 479.18,70.92 480.85,70.29 482.51,69.62 484.17,68.93 485.82,68.24 487.47,67.53 489.12,66.83 490.76,66.11 492.4,65.38 494.04,64.65 495.67,63.91 497.3,63.16 498.93,62.42 500.57,61.7 502.22,61 503.89,60.33 505.55,59.66 507.2,58.96 508.82,58.2 510.41,57.38 511.97,56.49 513.51,55.57 515.02,54.6 516.51,53.61 517.98,52.59 519.43,51.53 520.86,50.44 522.26,49.32 523.64,48.18 525.01,47.02 526.38,45.87 527.74,44.7 529.06,43.49 530.31,42.21 531.48,40.85 532.57,39.43 533.58,37.94 534.52,36.42 535.42,34.87 536.27,33.29 537.07,31.68 537.82,30.06 538.52,28.41 539.17,26.74 539.73,25.03 540.19,23.3 540.61,21.56 541.04,19.82 541.58,18.11 542.17,18.7 542.39,19.95 542.57,21.2 542.75,22.45" fill="none" stroke="#ff0000" stroke-width="2.2" stroke-linejoin="round" stroke-linecap="round"/>
<polyline points="542.75,22.45 542.66,24.2 542.56,25.95 542.39,27.7 542.16,29.44 541.88,31.17 541.56,32.9 541.16,34.6 540.7,36.29 540.2,37.97 539.69,39.65 539.21,41.33 538.73,43.01 538.25,44.7 537.76,46.38 537.21,48.05 536.65,49.71 536.08,51.37 535.47,53.01 534.86,54.66 534.23,56.3 533.6,57.93 532.96,59.57 532.3,61.2 531.64,62.82 530.97,64.44 530.29,66.06 529.6,67.67 528.89,69.28 528.16,70.88 527.41,72.46 526.62,74.03 525.8,75.58 524.94,77.11 524.04,78.61 523.1,80.09 522.14,81.55 521.13,82.99 520.09,84.39 519.02,85.78 517.93,87.14 516.83,88.51 515.72,89.87 514.59,91.21 513.45,92.54 512.3,93.86 511.14,95.18 509.99,96.51 508.83,97.82 507.65,99.12 506.43,100.38 505.14,101.57 503.84,102.75 502.59,103.97 501.41,105.28 500.27,106.61 499.11,107.92 497.88,109.17 496.6,110.38 495.3,111.56 494,112.74 492.7,113.91 491.41,115.1 490.11,116.28 488.78,117.42 487.41,118.52 486,119.56 484.55,120.54 483.09,121.51 481.63,122.47 480.16,123.42 478.68,124.36 477.19,125.29 475.7,126.21 474.2,127.13 472.7,128.04 471.21,128.97 469.72,129.9 468.23,130.82 466.73,131.74 465.23,132.65 463.73,133.55 462.21,134.44 460.7,135.32 459.17,136.2 457.65,137.06 456.12,137.93 454.59,138.78 453.05,139.62 451.5,140.45 449.95,141.28 448.41,142.12 446.88,142.99 445.38,143.89 443.89,144.82 442.42,145.77 440.95,146.73 439.48,147.69 438,148.63 436.5,149.54 434.99,150.44 433.48,151.34 431.99,152.26 430.54,153.24 429.11,154.26 427.72,155.33 426.37,156.45 425.09,157.63 423.87,158.89 422.72,160.2 421.58,161.53 420.45,162.87 419.33,164.21 418.21,165.57 417.1,166.92 415.99,168.28 414.86,169.63 413.73,170.97 412.6,172.31 411.45,173.63 410.3,174.95 409.14,176.26 407.97,177.57 406.8,178.87 405.61,180.16 404.42,181.45 403.22,182.72 402.02,184 400.82,185.27 399.62,186.55 398.42,187.83 397.22,189.12 396.02,190.4 394.82,191.68 393.63,192.96 392.45,194.27 391.29,195.59 390.17,196.94 389.09,198.32 388.05,199.72 387.02,201.14 385.98,202.55 384.92,203.94 383.78,205.28 382.56,206.54 381.24,207.69 379.82,208.72 378.35,209.65 376.82,210.5 375.2,211.16 373.52,211.64 371.79,211.93 370.04,212.02 368.3,211.89 366.6,211.59 364.94,211.18 363.39,210.56 361.91,209.82 360.44,209.1 358.91,208.51 357.25,208.28 355.55,208.53 353.9,209.1 352.31,209.84 350.74,210.62 349.18,211.41 347.62,212.22 346.08,213.06 344.56,213.94 343.06,214.85 341.58,215.78 340.11,216.76 338.69,217.77 337.29,218.84 335.92,219.92 334.55,221.01 333.19,222.11 331.82,223.2 330.43,224.27 329.04,225.33 327.64,226.39 326.24,227.44 324.84,228.49 323.42,229.52 321.97,230.51 320.49,231.45 318.97,232.32 317.4,233.11 315.8,233.82 314.18,234.5 312.56,235.17 310.95,235.87 309.37,236.62 307.8,237.41 306.24,238.22 304.69,239.04 303.14,239.86 301.58,240.67 300.02,241.46 298.44,242.21 296.85,242.93 295.25,243.61 293.63,244.27 292,244.91 290.34,245.49 288.68,246.04 287.02,246.6 285.37,247.2 283.73,247.84 282.1,248.48 280.47,249.12 278.82,249.73 277.16,250.3 275.49,250.82 273.79,251.25 272.07,251.61 270.34,251.92 268.61,252.22 266.88,252.52 265.16,252.85 263.44,253.18 261.71,253.49 259.98,253.8 258.26,254.15 256.55,254.54 254.87,255.02 253.2,255.56 251.54,256.15 249.91,256.78 248.29,257.46 246.7,258.19 245.13,258.99 243.59,259.83 242.07,260.71 240.57,261.61 239.09,262.56 237.66,263.56 236.26,264.63 234.92,265.76 233.65,266.97 232.45,268.25 231.3,269.57 230.22,270.96 229.17,272.36 228.14,273.78 227.12,275.21 226.11,276.64 225.09,278.06 224.05,279.48 222.98,280.87 221.89,282.24 220.78,283.6 219.66,284.95 218.53,286.3 217.39,287.63 216.25,288.96 215.09,290.28 213.92,291.59 212.73,292.88 211.53,294.16 210.28,295.39 208.94,296.52 207.48,297.49 205.99,298.42 204.47,299.29 202.91,300.09 201.32,300.82 199.69,301.47 198.03,302 196.34,302.48 194.66,302.98 192.99,303.51 191.32,304.06 189.65,304.59 187.97,305.1 186.28,305.58 184.59,306.04 182.9,306.5 181.21,306.99 179.53,307.5 177.85,308.01 176.18,308.53 174.5,309.04 172.82,309.55 171.15,310.08 169.49,310.64 167.84,311.25 166.21,311.88 164.57,312.52 162.93,313.13 161.27,313.7 159.61,314.28 157.99,314.94 156.41,315.71 154.89,316.58 153.39,317.49 151.91,318.44 150.45,319.4 149.05,320.46 147.8,321.69 146.7,323.05" fill="none" stroke="#ff0000" stroke-width="2.2" stroke-linejoin="round" stroke-linecap="round"/>
<polyline points="146.7,320.5 147.04,318.72 147.38,316.94 147.72,315.17 148.08,313.39 148.47,311.63 148.9,309.87 149.36,308.12 149.86,306.37 150.39,304.65 150.97,302.93 151.58,301.23 152.23,299.54 152.92,297.86 153.69,296.23 154.67,294.71 155.58,293.14 156.39,291.53 157.18,289.9 157.97,288.27 158.79,286.65 159.64,285.06 160.56,283.5 161.52,281.96 162.52,280.45 163.56,278.97 164.65,277.52 165.8,276.13 167.05,274.82 168.35,273.56 169.67,272.32 170.99,271.08 172.32,269.85 173.66,268.64 175.02,267.45 176.4,266.27 177.79,265.12 179.21,263.99 180.64,262.88 182.08,261.79 183.54,260.72 185.01,259.67 186.5,258.63 187.98,257.59 189.46,256.56 190.95,255.52 192.44,254.49 193.93,253.46 195.42,252.44 196.91,251.42 198.41,250.4 199.91,249.38 201.4,248.36 202.9,247.34 204.39,246.32 205.88,245.28 207.36,244.25 208.84,243.2 210.3,242.13 211.72,241.01 213.12,239.86 214.5,238.69 215.89,237.53 217.28,236.37 218.67,235.21 220.07,234.06 221.47,232.92 222.9,231.81 224.33,230.7 225.77,229.61 227.22,228.52 228.66,227.43 230.11,226.34 231.57,225.26 233.02,224.19 234.49,223.13 235.97,222.08 237.45,221.05 238.95,220.04 240.48,219.06 242.01,218.1 243.57,217.17 245.13,216.26 246.69,215.34 248.25,214.43 249.8,213.5 251.34,212.55 252.86,211.57 254.37,210.57 255.86,209.55 257.35,208.52 258.83,207.48 260.3,206.43 261.78,205.37 263.25,204.32 264.72,203.27 266.2,202.22 267.68,201.19 269.17,200.16 270.66,199.13 272.15,198.1 273.62,197.04 275.07,195.96 276.5,194.86 277.91,193.73 279.29,192.56 280.62,191.34 281.89,190.07 283.19,188.81 284.59,187.68 286,186.57 287.29,185.3 288.41,183.88 289.55,182.49 290.68,181.11 291.79,179.7 292.9,178.29 294.01,176.88 295.11,175.45 296.18,174 297.22,172.51 298.23,171.02 299.26,169.53 300.27,168.04 301.27,166.55 302.29,165.07 303.37,163.65 304.53,162.28 305.77,160.97 307.08,159.73 308.51,158.64 310.1,157.81 311.87,157.65 313.6,158.08 315.27,158.6 316.88,159.12 318.46,159.66 320.03,160.16 321.64,160.51 323.28,160.7 324.97,160.74 326.68,160.64 328.39,160.32 330.04,159.7 331.62,158.88 333.12,157.91 334.54,156.8 335.78,155.5 336.95,154.12 338.19,152.8 339.46,151.52 340.75,150.25 342.05,148.98 343.33,147.71 344.61,146.43 345.87,145.12 347.09,143.79 348.27,142.42 349.43,141.03 350.58,139.63 351.72,138.23 352.86,136.82 354.01,135.42 355.16,134.03 356.33,132.64 357.51,131.27 358.71,129.91 359.92,128.57 361.15,127.24 362.39,125.92 363.63,124.61 364.89,123.31 366.18,122.04 367.54,120.85 368.99,119.8 370.48,118.79 371.89,117.66 373.12,116.36 374.33,115.03 375.61,113.79 376.81,112.59 378.01,111.47 379.38,110.52 380.91,109.75 382.52,109.13 384.17,108.68 385.86,108.44 387.57,108.31 389.28,108.26 391,108.27 392.74,108.34 394.49,108.49 396.25,108.7 398.02,108.96 399.78,109.27 401.54,109.65 403.29,110.1 405.03,110.59 406.75,111.16 408.45,111.75 410.16,112.33 411.86,112.87 413.58,113.31 415.29,113.67 416.99,113.97 418.67,114.21 420.32,114.37 421.96,114.45 423.61,114.47 425.28,114.36 426.97,114.02 428.61,113.3 430.05,112.23 431.32,110.94 432.5,109.56 433.6,108.13 434.65,106.66 435.7,105.18 436.76,103.73 437.84,102.28 438.92,100.83 440.01,99.39 441.1,97.95 442.21,96.52 443.34,95.11 444.47,93.69 445.63,92.3 446.82,90.94 448.07,89.64 449.38,88.4 450.72,87.19 452.07,85.99 453.44,84.8 454.81,83.62 456.2,82.46 457.61,81.32 459.03,80.2 460.47,79.1 461.93,78.03 463.42,77.01 464.95,76.05 466.52,75.14 468.12,74.3 469.74,73.49 471.38,72.73 473.04,72 474.72,71.34 476.43,70.75 478.15,70.17 479.85,69.55 481.53,68.88 483.21,68.19 484.87,67.5 486.54,66.79 488.2,66.08 489.87,65.36 491.52,64.63 493.17,63.89 494.82,63.14 496.47,62.39 498.12,61.64 499.77,60.9 501.44,60.19 503.11,59.51 504.79,58.84 506.46,58.14 508.11,57.39 509.72,56.56 511.3,55.67 512.85,54.74 514.38,53.77 515.88,52.77 517.37,51.74 518.83,50.67 520.27,49.57 521.68,48.43 523.07,47.28 524.46,46.11 525.84,44.95 527.21,43.76 528.54,42.53 529.79,41.22 530.96,39.84 532.05,38.4 533.06,36.89 534.01,35.35 534.9,33.78 535.75,32.18 536.55,30.56 537.31,28.92 538,27.24 538.63,25.55 539.18,23.82 539.65,22.08 540.11,20.32 540.58,18.58 541.1,16.85 541.66,16.47 542.01,16.48 542.33,16.49 542.65,16.5" fill="none" stroke="#404040" stroke-width="2.2" stroke-linejoin="round" stroke-linecap="round"/>
<polyline points="542.65,16.5 542.52,18.25 542.39,20.01 542.22,21.76 542.01,23.5 541.77,25.24 541.5,26.98 541.2,28.71 540.85,30.42 540.47,32.13 540.09,33.84 539.72,35.55 539.34,37.26 538.95,38.97 538.51,40.67 537.93,42.32 537.28,43.95 536.65,45.59 535.98,47.21 535.31,48.84 534.67,50.48 534.04,52.12 533.41,53.76 532.78,55.4 532.15,57.04 531.5,58.68 530.85,60.31 530.18,61.94 529.5,63.56 528.79,65.17 528.06,66.77 527.31,68.36 526.53,69.93 525.72,71.49 524.89,73.04 524.03,74.57 523.16,76.08 522.26,77.58 521.32,79.06 520.36,80.52 519.37,81.97 518.37,83.4 517.34,84.82 516.28,86.22 515.2,87.6 514.09,88.96 512.96,90.31 511.82,91.65 510.67,92.98 509.5,94.29 508.31,95.58 507.07,96.83 505.83,98.06 504.6,99.32 503.43,100.63 502.28,101.97 501.11,103.28 499.89,104.55 498.62,105.76 497.31,106.94 496,108.11 494.72,109.31 493.49,110.56 492.25,111.8 490.98,113.01 489.65,114.16 488.29,115.27 486.9,116.34 485.5,117.39 484.09,118.44 482.68,119.48 481.26,120.5 479.81,121.49 478.34,122.45 476.85,123.39 475.35,124.31 473.86,125.23 472.36,126.16 470.86,127.08 469.36,127.99 467.85,128.9 466.35,129.81 464.84,130.71 463.33,131.61 461.82,132.51 460.3,133.4 458.79,134.29 457.26,135.17 455.73,136.04 454.19,136.89 452.65,137.73 451.11,138.59 449.58,139.45 448.06,140.33 446.55,141.23 445.04,142.13 443.54,143.04 442.03,143.94 440.52,144.85 439.01,145.74 437.5,146.64 435.99,147.55 434.5,148.48 433.03,149.44 431.57,150.43 430.13,151.42 428.71,152.45 427.33,153.51 426,154.64 424.73,155.83 423.51,157.08 422.3,158.36 421.12,159.66 419.95,160.96 418.78,162.27 417.62,163.59 416.46,164.91 415.29,166.22 414.1,167.51 412.89,168.78 411.66,170.03 410.42,171.27 409.17,172.49 407.92,173.72 406.66,174.94 405.4,176.16 404.14,177.38 402.87,178.59 401.61,179.81 400.36,181.05 399.12,182.29 397.9,183.56 396.69,184.84 395.49,186.12 394.3,187.41 393.12,188.72 391.94,190.03 390.78,191.34 389.64,192.68 388.51,194.02 387.39,195.36 386.26,196.7 385.12,198.03 383.94,199.34 382.71,200.59 381.42,201.78 380.07,202.9 378.7,203.97 377.28,204.95 375.62,205.54 373.91,205.88 372.17,206.09 370.42,206.21 368.68,206.27 366.98,206.27 365.31,206.25 363.71,206.13 362.18,205.98 360.66,205.88 359.13,205.89 357.54,206.14 355.92,206.68 354.34,207.4 352.78,208.21 351.24,209.05 349.7,209.9 348.17,210.75 346.64,211.63 345.13,212.52 343.62,213.43 342.13,214.35 340.64,215.29 339.17,216.25 337.72,217.23 336.27,218.22 334.83,219.22 333.39,220.21 331.95,221.2 330.5,222.18 329.04,223.14 327.58,224.11 326.12,225.08 324.65,226.04 323.17,226.98 321.68,227.89 320.16,228.77 318.61,229.6 317.02,230.36 315.42,231.08 313.8,231.78 312.19,232.49 310.6,233.23 309.03,234.02 307.48,234.84 305.93,235.68 304.4,236.54 302.87,237.41 301.34,238.27 299.82,239.14 298.31,240.02 296.81,240.9 295.31,241.77 293.78,242.59 292.19,243.33 290.54,243.94 288.86,244.45 287.18,244.96 285.51,245.52 283.86,246.1 282.2,246.69 280.55,247.27 278.88,247.84 277.21,248.37 275.51,248.85 273.8,249.26 272.08,249.61 270.35,249.92 268.62,250.22 266.89,250.53 265.16,250.89 263.45,251.26 261.73,251.63 260.01,252.01 258.31,252.42 256.61,252.88 254.94,253.4 253.28,253.98 251.63,254.6 250,255.25 248.39,255.96 246.8,256.71 245.24,257.52 243.71,258.4 242.22,259.32 240.75,260.28 239.3,261.28 237.89,262.33 236.52,263.43 235.19,264.58 233.91,265.78 232.68,267.03 231.49,268.33 230.35,269.66 229.24,271.02 228.15,272.4 227.07,273.78 226,275.17 224.92,276.56 223.84,277.94 222.73,279.31 221.61,280.66 220.48,282.01 219.35,283.36 218.22,284.7 217.08,286.04 215.93,287.38 214.78,288.7 213.6,290.01 212.42,291.31 211.21,292.59 209.96,293.83 208.65,294.99 207.24,296.04 205.8,297.04 204.32,297.98 202.8,298.86 201.25,299.68 199.67,300.42 198.04,301.06 196.39,301.66 194.74,302.24 193.09,302.85 191.44,303.44 189.77,304.01 188.1,304.54 186.4,304.99 184.69,305.39 182.98,305.8 181.28,306.26 179.59,306.75 177.91,307.26 176.23,307.78 174.55,308.31 172.88,308.86 171.22,309.42 169.55,309.99 167.88,310.54 166.22,311.08 164.55,311.63 162.88,312.18 161.2,312.69 159.53,313.22 157.88,313.84 156.29,314.57 154.73,315.4 153.21,316.27 151.7,317.18 150.24,318.15 148.9,319.28 147.73,320.58 146.7,322" fill="none" stroke="#404040" stroke-width="2.2" stroke-linejoin="round" stroke-linecap="round"/>
<polyline points="146.11,320.38 146.46,318.58 146.8,316.78 147.15,314.98 147.52,313.18 147.91,311.39 148.35,309.6 148.82,307.83 149.32,306.07 149.87,304.31 150.45,302.58 151.08,300.85 151.74,299.14 152.45,297.45 153.24,295.79 154.25,294.26 155.15,292.66 155.97,291.02 156.77,289.37 157.58,287.72 158.41,286.09 159.29,284.47 160.21,282.89 161.18,281.33 162.18,279.79 163.22,278.28 164.32,276.81 165.5,275.41 166.78,274.09 168.11,272.83 169.45,271.57 170.78,270.31 172.13,269.07 173.5,267.85 174.88,266.64 176.28,265.45 177.7,264.29 179.14,263.16 180.6,262.04 182.06,260.93 183.54,259.85 185.04,258.79 186.55,257.74 188.05,256.69 189.55,255.64 191.06,254.59 192.57,253.55 194.08,252.51 195.6,251.47 197.11,250.43 198.63,249.4 200.14,248.37 201.66,247.33 203.18,246.3 204.69,245.26 206.19,244.21 207.7,243.16 209.19,242.09 210.65,240.98 212.08,239.83 213.48,238.64 214.88,237.46 216.29,236.28 217.7,235.11 219.11,233.94 220.53,232.78 221.97,231.63 223.42,230.51 224.88,229.41 226.35,228.3 227.81,227.2 229.29,226.1 230.76,225.01 232.24,223.92 233.72,222.84 235.21,221.77 236.72,220.72 238.23,219.68 239.76,218.67 241.3,217.68 242.86,216.71 244.43,215.75 246,214.8 247.56,213.84 249.12,212.87 250.66,211.88 252.19,210.87 253.7,209.82 255.2,208.76 256.69,207.69 258.17,206.6 259.64,205.51 261.12,204.42 262.59,203.32 264.06,202.23 265.54,201.14 267.02,200.06 268.52,199 270.02,197.94 271.5,196.86 272.96,195.75 274.4,194.61 275.82,193.45 277.23,192.28 278.62,191.08 279.97,189.83 281.21,188.49 282.36,187.06 283.61,185.71 285.11,184.67 286.68,183.72 288.02,182.47 289.1,180.99 290.08,179.44 291.01,177.86 291.94,176.27 292.88,174.7 293.85,173.14 294.83,171.59 295.81,170.04 296.79,168.49 297.75,166.92 298.69,165.35 299.56,163.73 300.39,162.1 301.21,160.45 302.1,158.85 303.1,157.31 304.23,155.86 305.46,154.5 306.82,153.28 308.35,152.26 310.11,152.08 311.79,152.8 313.34,153.79 314.78,154.93 316.15,156.14 317.53,157.35 319,158.45 320.59,159.36 322.28,160.06 324.05,160.54 325.88,160.7 327.69,160.44 329.44,159.9 331.12,159.16 332.66,158.17 333.88,156.81 334.95,155.31 336.17,153.95 337.46,152.65 338.77,151.36 340.08,150.07 341.38,148.78 342.7,147.5 344.01,146.22 345.3,144.91 346.54,143.56 347.73,142.17 348.9,140.75 350.05,139.32 351.21,137.9 352.37,136.48 353.53,135.06 354.7,133.64 355.87,132.23 357.07,130.84 358.29,129.47 359.52,128.11 360.77,126.76 362.03,125.43 363.3,124.11 364.58,122.79 365.88,121.5 367.21,120.23 368.58,119.02 370.02,117.87 371.45,116.72" fill="none" stroke="#8000ff" stroke-width="2.8" stroke-linejoin="round" stroke-linecap="round"/>
<polyline points="372.78,115.46 373.87,113.99 374.64,112.33 375.35,110.64 376.33,109.1 377.62,107.8 379.06,106.66 380.58,105.63 382.21,104.79 383.91,104.1 385.63,103.45 387.37,102.89 389.16,102.47 390.97,102.21 392.8,102.06 394.64,102 396.47,102.06 398.29,102.27 400.09,102.62 401.87,103.06 403.61,103.66 405.3,104.37 406.96,105.14 408.61,105.95 410.25,106.77 411.89,107.6 413.53,108.43 415.15,109.29 416.76,110.17 418.38,111.02 420.05,111.78 421.79,112.35 423.61,112.53" fill="none" stroke="#ff00ff" stroke-width="2.8" stroke-linejoin="round" stroke-linecap="round"/>
<polyline points="425.37,112.03 426.89,111.03 428.24,109.78 429.5,108.45 430.65,107.02 431.76,105.56 432.9,104.12 434.08,102.71 435.26,101.31 436.45,99.91 437.64,98.52 438.84,97.12 440.03,95.73 441.21,94.32 442.38,92.91 443.58,91.52 444.83,90.18 446.17,88.93" fill="none" stroke="#ff0000" stroke-width="2.8" stroke-linejoin="round" stroke-linecap="round"/>
<polyline points="447.6,87.78 449.05,86.66 450.46,85.48 451.85,84.28 453.23,83.07 454.61,81.86 456.01,80.68 457.44,79.53 458.89,78.41 460.36,77.31 461.86,76.24 463.39,75.24 464.96,74.29 466.57,73.41 468.2,72.57 469.86,71.77 471.53,71.01 473.21,70.29 474.94,69.66 476.68,69.09 478.41,68.49 480.13,67.83 481.83,67.14 483.52,66.44 485.21,65.73 486.9,65.01 488.58,64.28 490.27,63.54 491.94,62.8 493.61,62.04 495.28,61.28 496.95,60.52 498.63,59.77 500.31,59.04 502.01,58.34 503.71,57.66 505.41,56.97 507.09,56.22 508.72,55.39 510.33,54.5 511.9,53.56 513.46,52.58 514.98,51.57 516.49,50.52 517.97,49.44 519.43,48.32 520.86,47.17 522.27,46 523.67,44.81 525.07,43.63 526.45,42.42 527.78,41.16 529.04,39.82 530.2,38.4 531.3,36.93 532.31,35.4 533.27,33.83 534.17,32.23 535.02,30.61 535.82,28.96 536.57,27.28 537.25,25.58 537.86,23.85 538.39,22.09 538.89,20.33 539.39,18.56 539.91,16.8 540.43,15.04 540.95,13.28 541.47,11.52 541.98,9.76 542.5,8" fill="none" stroke="#8000ff" stroke-width="2.8" stroke-linejoin="round" stroke-linecap="round"/>
<polyline points="199.62,298.92 198.05,299.72 196.46,300.47 194.85,301.19 193.23,301.89 191.6,302.57 189.95,303.19 188.27,303.73 186.56,304.15 184.82,304.47 183.09,304.8 181.38,305.21 179.68,305.68 177.98,306.18 176.3,306.7 174.63,307.27 172.98,307.88 171.32,308.49 169.65,309.04 167.95,309.51 166.23,309.94 164.52,310.36 162.82,310.81 161.11,311.25 159.41,311.71 157.74,312.28 156.11,312.95 154.51,313.71 152.94,314.51 151.41,315.38 149.95,316.36 148.69,317.59 147.62,319 146.7,320.5" fill="none" stroke="#8000ff" stroke-width="2.8" stroke-linejoin="round" stroke-linecap="round"/>
<polyline points="299.54,235.83 298.12,236.89 296.76,238 295.4,239.13 293.99,240.18 292.46,241.06 290.83,241.73 289.13,242.19 287.42,242.62 285.72,243.11 284.03,243.62 282.35,244.13 280.66,244.64 278.96,245.13 277.26,245.6 275.55,246.03 273.83,246.41 272.1,246.74 270.36,247.05 268.63,247.36 266.89,247.69 265.17,248.08 263.46,248.51 261.76,248.97 260.06,249.44 258.37,249.95 256.7,250.5 255.04,251.1 253.39,251.74 251.76,252.39 250.13,253.08 248.52,253.81 246.94,254.59 245.39,255.43 243.89,256.35 242.43,257.34 241,258.37 239.6,259.45 238.23,260.56 236.89,261.71 235.58,262.88 234.28,264.08 233.01,265.29 231.76,266.54 230.54,267.82 229.35,269.11 228.17,270.43 227,271.75 225.84,273.08 224.69,274.41 223.53,275.74 222.37,277.07 221.21,278.4 220.06,279.74 218.91,281.08 217.78,282.43 216.63,283.77 215.49,285.11 214.33,286.44 213.16,287.76 211.96,289.05 210.75,290.34 209.51,291.59 208.23,292.8 206.9,293.96 205.53,295.07 204.11,296.12 202.65,297.11 201.15,298.04" fill="none" stroke="#8000ff" stroke-width="2.8" stroke-linejoin="round" stroke-linecap="round"/>
<polyline points="344.42,211.4 342.91,212.31 341.39,213.2 339.86,214.08 338.32,214.94 336.78,215.8 335.24,216.65 333.69,217.5 332.14,218.34 330.59,219.18 329.04,220.02 327.49,220.86 325.93,221.7 324.38,222.53 322.82,223.35 321.25,224.16 319.68,224.96 318.09,225.72 316.48,226.45 314.87,227.17 313.26,227.89 311.67,228.65 310.1,229.45 308.55,230.3 307.02,231.17 305.49,232.06 303.98,232.97 302.49,233.9 301,234.85" fill="none" stroke="#ff0000" stroke-width="2.8" stroke-linejoin="round" stroke-linecap="round"/>
<polyline points="382.93,192.1 381.69,193.35 380.43,194.58 379.21,195.85 377.92,197.03 376.23,197.5 374.47,197.65 372.71,197.75 370.96,197.91 369.22,198.24 367.52,198.68 365.83,199.2 364.18,199.81 362.55,200.49 360.97,201.27 359.44,202.15 357.94,203.08 356.46,204.03 354.96,204.96 353.45,205.88 351.95,206.81 350.45,207.73 348.95,208.66 347.44,209.57 345.93,210.49" fill="none" stroke="#0000ff" stroke-width="2.8" stroke-linejoin="round" stroke-linecap="round"/>
<polyline points="429.04,148.57 427.61,149.6 426.25,150.73 424.95,151.92 423.69,153.15 422.42,154.38 421.18,155.63 419.96,156.9 418.74,158.18 417.51,159.44 416.25,160.67 414.94,161.85 413.6,163 412.24,164.13 410.88,165.24 409.51,166.36 408.16,167.49 406.8,168.62 405.45,169.75 404.09,170.87 402.74,172.01 401.42,173.18 400.13,174.38 398.88,175.62 397.65,176.89 396.45,178.18 395.26,179.48 394.07,180.78 392.87,182.08 391.65,183.36 390.42,184.61 389.17,185.86 387.92,187.1 386.66,188.34 385.42,189.59 384.17,190.84" fill="none" stroke="#ff0000" stroke-width="2.8" stroke-linejoin="round" stroke-linecap="round"/>
<polyline points="542.5,8 542.32,9.75 542.14,11.51 541.96,13.26 541.79,15.02 541.61,16.77 541.43,18.53 541.24,20.28 541.06,22.04 540.87,23.79 540.67,25.54 540.46,27.29 540.22,29.04 539.95,30.78 539.59,32.51 538.94,34.14 538.18,35.73 537.47,37.34 536.69,38.93 535.96,40.53 535.29,42.16 534.66,43.81 534.06,45.47 533.46,47.13 532.87,48.79 532.27,50.45 531.66,52.1 531.02,53.75 530.36,55.38 529.68,57.01 528.99,58.63 528.28,60.25 527.56,61.86 526.84,63.47 526.1,65.07 525.37,66.67 524.62,68.27 523.86,69.87 523.08,71.45 522.28,73.02 521.44,74.57 520.57,76.1 519.66,77.61 518.7,79.09 517.7,80.54 516.66,81.97 515.56,83.35 514.44,84.71 513.3,86.05 512.15,87.4 511,88.73 509.83,90.05 508.66,91.37 507.48,92.68 506.31,94 505.15,95.33 503.98,96.65 502.78,97.94 501.5,99.16 500.18,100.32 498.86,101.49 497.61,102.74 496.45,104.07 495.31,105.41 494.11,106.71 492.85,107.94 491.56,109.14 490.25,110.33 488.94,111.5 487.62,112.67 486.29,113.84 484.94,114.97 483.55,116.06 482.12,117.08 480.64,118.04 479.14,118.97 477.64,119.9 476.13,120.82 474.62,121.72 473.11,122.63 471.6,123.54 470.09,124.45 468.58,125.37 467.09,126.31 465.59,127.24 464.09,128.17 462.59,129.1 461.09,130.02 459.57,130.91 458.04,131.8 456.51,132.67 454.97,133.54 453.43,134.4 451.89,135.25 450.34,136.1 448.79,136.93 447.23,137.76 445.68,138.6 444.13,139.44 442.6,140.31 441.08,141.21 439.57,142.13 438.08,143.07 436.59,144.01 435.09,144.94 433.58,145.85 432.05,146.73 430.53,147.63" fill="none" stroke="#808000" stroke-width="2.8" stroke-linejoin="round" stroke-linecap="round"/>
<polyline points="147.29,320.62 147.62,318.86 147.96,317.11 148.3,315.36 148.65,313.61 149.03,311.86 149.45,310.13 149.9,308.4 150.39,306.68 150.92,304.98 151.48,303.28 152.08,301.6 152.72,299.94 153.39,298.28 154.14,296.66 155.09,295.15 156.01,293.62 156.81,292.03 157.59,290.42 158.37,288.82 159.16,287.22 160,285.64 160.91,284.1 161.86,282.59 162.85,281.11 163.89,279.66 164.97,278.24 166.1,276.86 167.32,275.55 168.59,274.3 169.89,273.08 171.19,271.85 172.5,270.64 173.82,269.44 175.16,268.25 176.51,267.09 177.88,265.95 179.28,264.83 180.68,263.73 182.1,262.65 183.54,261.58 184.99,260.54 186.45,259.52 187.91,258.5 189.37,257.47 190.84,256.45 192.31,255.43 193.77,254.42 195.24,253.41 196.72,252.4 198.19,251.39 199.67,250.39 201.14,249.38 202.62,248.38 204.09,247.37 205.56,246.36 207.03,245.34 208.49,244.31 209.94,243.28 211.37,242.2 212.76,241.08 214.13,239.93 215.49,238.78 216.85,237.63 218.23,236.49 219.6,235.35 220.98,234.21 222.37,233.1 223.78,232 225.2,230.92 226.62,229.84 228.04,228.76 229.47,227.68 230.89,226.61 232.33,225.54 233.76,224.48 235.22,223.45 236.67,222.42 238.15,221.41 239.65,220.44 241.16,219.49 242.71,218.6 244.26,217.71 245.82,216.85 247.38,215.98 248.94,215.11 250.49,214.23 252.02,213.32 253.54,212.38 255.04,211.41 256.53,210.43 258.02,209.44 259.49,208.43 260.97,207.42 262.43,206.41 263.9,205.39 265.37,204.38 266.85,203.37 268.33,202.38 269.83,201.4 271.33,200.44 272.83,199.48 274.31,198.47 275.76,197.43 277.2,196.38 278.62,195.3 280.03,194.2 281.42,193.08 282.77,191.92 284.07,190.69 285.32,189.42 286.55,188.13 287.72,186.78 289.02,185.55 290.34,184.35 291.65,183.14 292.92,181.88 294.17,180.61 295.39,179.31 296.55,177.95 297.65,176.54 298.72,175.11 299.83,173.71 300.98,172.35 302.15,171 303.36,169.7 304.64,168.45 305.96,167.25 307.3,166.07 308.7,164.96 310.2,163.99 311.86,163.36 313.63,163.23 315.41,163.35 317.2,163.4 318.98,163.3 320.76,163.18 322.53,162.97 324.27,162.57 325.98,162.04 327.65,161.42 329.3,160.73 330.9,159.95 332.39,158.96 333.79,157.86 335.12,156.67 336.41,155.44 337.69,154.19 338.95,152.92 340.2,151.65 341.46,150.39 342.73,149.13 344.01,147.89 345.29,146.64 346.53,145.36 347.72,144.03 348.88,142.67 350.01,141.29 351.13,139.9 352.26,138.51 353.39,137.13 354.52,135.75 355.65,134.37 356.79,133 357.96,131.65 359.14,130.31 360.34,128.99 361.56,127.68 362.78,126.38 364.01,125.08 365.23,123.78 366.48,122.5 367.78,121.29 369.2,120.21 370.78,119.37 372.37,118.56 373.76,117.45 374.79,116 375.89,114.6 377.36,113.59 378.98,112.85 380.68,112.31 382.43,111.94 384.19,111.7 385.98,111.6 387.75,111.74 389.5,112.09 391.23,112.53 392.93,113.07 394.63,113.64 396.32,114.2 398.01,114.77 399.7,115.34 401.4,115.91 403.09,116.48 404.79,117.03 406.49,117.58 408.19,118.12 409.89,118.66 411.61,119.14 413.35,119.53 415.12,119.79 416.9,119.85 418.68,119.74 420.45,119.52 422.19,119.12 423.88,118.57 425.54,117.89 427.16,117.16 428.77,116.37 430.33,115.52 431.84,114.57 433.21,113.42 434.41,112.1 435.49,110.68 436.55,109.25 437.54,107.76 438.49,106.25 439.45,104.74 440.43,103.25 441.4,101.75 442.37,100.25 443.37,98.77 444.4,97.32 445.47,95.89 446.56,94.48 447.68,93.08 448.81,91.7 449.97,90.34 451.16,89.01 452.4,87.73 453.69,86.49 455.03,85.31 456.4,84.17 457.8,83.06 459.2,81.96 460.61,80.87 462.04,79.79 463.49,78.76 464.99,77.78 466.52,76.86 468.08,76 469.67,75.18 471.28,74.42 472.91,73.68 474.55,72.99 476.23,72.39 477.93,71.83 479.62,71.25 481.28,70.6 482.93,69.93 484.58,69.25 486.23,68.55 487.87,67.85 489.51,67.15 491.15,66.43 492.78,65.71 494.41,64.97 496.03,64.24 497.66,63.5 499.28,62.76 500.92,62.04 502.56,61.35 504.22,60.68 505.87,60.02 507.52,59.32 509.13,58.56 510.71,57.73 512.26,56.85 513.79,55.92 515.3,54.96 516.78,53.97 518.25,52.95 519.69,51.9 521.11,50.81 522.5,49.7 523.88,48.56 525.24,47.41 526.61,46.26 527.96,45.1 529.29,43.9 530.54,42.63 531.71,41.28 532.8,39.87 533.8,38.39 534.74,36.88 535.64,35.33 536.49,33.76 537.29,32.16 538.04,30.55 538.75,28.91 539.4,27.25 539.96,25.55 540.42,23.83 540.83,22.09 541.25,20.35 541.78,18.66 542.38,19.66 542.55,21.44 542.67,23.22 542.8,25" fill="none" stroke="#8000ff" stroke-width="3.1" stroke-linejoin="round" stroke-linecap="round"/>
<polyline points="542.8,25 542.73,26.75 542.63,28.5 542.47,30.25 542.22,31.99 541.93,33.71 541.58,35.43 541.15,37.13 540.64,38.81 540.08,40.47 539.52,42.13 538.99,43.8 538.46,45.48 537.95,47.15 537.43,48.83 536.91,50.5 536.38,52.18 535.83,53.84 535.26,55.5 534.66,57.15 534.04,58.79 533.41,60.43 532.76,62.05 532.1,63.68 531.43,65.3 530.74,66.91 530.05,68.52 529.35,70.13 528.63,71.73 527.9,73.32 527.13,74.9 526.33,76.46 525.49,78 524.6,79.51 523.67,81 522.7,82.46 521.7,83.9 520.65,85.3 519.56,86.68 518.44,88.03 517.31,89.36 516.17,90.7 515.02,92.03 513.87,93.34 512.7,94.65 511.53,95.96 510.36,97.27 509.21,98.59 508.04,99.9 506.86,101.19 505.62,102.43 504.31,103.6 502.99,104.76 501.72,105.96 500.55,107.26 499.41,108.6 498.24,109.91 497.01,111.16 495.74,112.36 494.44,113.55 493.14,114.72 491.83,115.88 490.52,117.05 489.19,118.19 487.84,119.31 486.45,120.38 485.02,121.39 483.55,122.35 482.06,123.28 480.57,124.2 479.07,125.12 477.57,126.02 476.07,126.92 474.56,127.82 473.06,128.73 471.56,129.64 470.07,130.57 468.59,131.5 467.1,132.43 465.61,133.35 464.11,134.26 462.6,135.16 461.09,136.04 459.57,136.91 458.04,137.78 456.51,138.63 454.98,139.49 453.44,140.33 451.89,141.16 450.34,141.98 448.79,142.8 447.25,143.64 445.73,144.5 444.23,145.41 442.75,146.36 441.29,147.33 439.84,148.31 438.39,149.29 436.92,150.25 435.43,151.17 433.92,152.07 432.41,152.96 430.92,153.89 429.47,154.87 428.06,155.91 426.68,157 425.37,158.16 424.13,159.4 422.96,160.71 421.85,162.06 420.76,163.44 419.66,164.8 418.56,166.17 417.47,167.54 416.38,168.92 415.29,170.29 414.18,171.65 413.07,173 411.95,174.36 410.84,175.71 409.72,177.06 408.59,178.4 407.46,179.74 406.32,181.08 405.17,182.4 404,183.71 402.83,185.02 401.66,186.32 400.48,187.61 399.3,188.91 398.12,190.21 396.93,191.5 395.73,192.78 394.53,194.06 393.34,195.34 392.16,196.65 391.02,197.97 389.91,199.33 388.86,200.74 387.85,202.17 386.86,203.62 385.86,205.06 384.83,206.47 383.72,207.83 382.49,209.09 381.16,210.22 379.71,211.21 378.19,212.09 376.63,212.88 375.02,213.57 373.35,214.11 371.63,214.43 369.88,214.51 368.14,214.3 366.44,213.87 364.79,213.29 363.25,212.45 361.8,211.46 360.35,210.48 358.82,209.63 357.13,209.2 355.39,209.33 353.72,209.83 352.11,210.54 350.53,211.3 348.95,212.06 347.39,212.85 345.84,213.68 344.32,214.55 342.82,215.46 341.34,216.4 339.89,217.38 338.48,218.43 337.11,219.52 335.76,220.65 334.43,221.78 333.1,222.93 331.76,224.06 330.41,225.17 329.04,226.27 327.67,227.36 326.3,228.46 324.92,229.54 323.52,230.6 322.1,231.63 320.64,232.59 319.13,233.48 317.56,234.28 315.97,235 314.35,235.67 312.72,236.33 311.1,237.01 309.51,237.74 307.94,238.51 306.37,239.31 304.81,240.11 303.25,240.91 301.69,241.7 300.1,242.45 298.5,243.15 296.87,243.8 295.22,244.4 293.57,244.99 291.92,245.59 290.26,246.15 288.6,246.72 286.94,247.3 285.31,247.93 283.68,248.58 282.06,249.25 280.43,249.91 278.8,250.54 277.15,251.13 275.47,251.66 273.78,252.1 272.06,252.47 270.34,252.78 268.61,253.08 266.88,253.37 265.16,253.69 263.43,254 261.7,254.29 259.97,254.57 258.24,254.89 256.53,255.25 254.84,255.71 253.16,256.23 251.51,256.81 249.87,257.43 248.25,258.1 246.65,258.83 245.08,259.61 243.54,260.45 242.01,261.31 240.49,262.19 239,263.11 237.55,264.1 236.15,265.15 234.81,266.27 233.54,267.48 232.35,268.77 231.22,270.11 230.16,271.51 229.14,272.93 228.13,274.37 227.14,275.82 226.16,277.27 225.16,278.71 224.15,280.14 223.09,281.54 222.01,282.92 220.91,284.29 219.79,285.64 218.67,286.98 217.53,288.31 216.38,289.64 215.22,290.96 214.05,292.27 212.87,293.56 211.67,294.84 210.42,296.07 209.07,297.18 207.58,298.11 206.08,299.01 204.53,299.85 202.96,300.62 201.35,301.31 199.71,301.92 198.02,302.4 196.32,302.84 194.63,303.29 192.95,303.8 191.27,304.32 189.6,304.84 187.92,305.34 186.24,305.83 184.55,306.32 182.87,306.8 181.18,307.31 179.51,307.82 177.83,308.34 176.16,308.85 174.48,309.35 172.79,309.84 171.12,310.36 169.46,310.93 167.82,311.56 166.2,312.23 164.58,312.9 162.95,313.55 161.3,314.14 159.65,314.73 158.03,315.41 156.47,316.2 154.95,317.08 153.47,318.02 152,318.97 150.54,319.94 149.12,320.97 147.84,322.17 146.7,323.5" fill="none" stroke="#8000ff" stroke-width="3.1" stroke-linejoin="round" stroke-linecap="round"/>
<text x="337.6" y="56.4" font-family="Liberation Sans, sans-serif" font-size="23" fill="#111">500</text>
<text x="375.6" y="45.2" font-family="Liberation Sans, sans-serif" font-size="11.5" fill="#111">th</text>
<text x="393" y="56.4" font-family="Liberation Sans, sans-serif" font-size="22" fill="#111">Cycle</text>
<rect x="370.5" y="77" width="1.9" height="59" fill="#000"/>
<polygon points="371.5,71.8 369.3,79.5 373.7,79.5" fill="#000"/>
<text x="367.6" y="159" font-family="Liberation Sans, sans-serif" font-size="21" fill="#111">1<tspan font-size="14" dy="-10.5">st</tspan></text>
<rect x="120.7" y="458.8" width="442" height="1.6" fill="#666"/>
<rect x="126" y="458.8" width="1.6" height="364.8" fill="#6e6e6e"/>
<rect x="561" y="458.8" width="2" height="364.8" fill="#666"/>
<rect x="126" y="822.1" width="437" height="1.6" fill="#555"/>
<rect x="114.8" y="806.65" width="12" height="1.5" fill="#5a5a5a"/>
<rect x="121" y="756.85" width="5.5" height="1.5" fill="#5a5a5a"/>
<rect x="114.8" y="707.05" width="12" height="1.5" fill="#5a5a5a"/>
<rect x="121" y="657.25" width="5.5" height="1.5" fill="#5a5a5a"/>
<rect x="114.8" y="607.45" width="12" height="1.5" fill="#5a5a5a"/>
<rect x="121" y="557.65" width="5.5" height="1.5" fill="#5a5a5a"/>
<rect x="114.8" y="507.85" width="12" height="1.5" fill="#5a5a5a"/>
<rect x="130.75" y="823.5" width="1.5" height="11.5" fill="#5a5a5a"/>
<rect x="192.14" y="823.5" width="1.5" height="5.5" fill="#5a5a5a"/>
<rect x="253.54" y="823.5" width="1.5" height="11.5" fill="#5a5a5a"/>
<rect x="314.94" y="823.5" width="1.5" height="5.5" fill="#5a5a5a"/>
<rect x="376.33" y="823.5" width="1.5" height="11.5" fill="#5a5a5a"/>
<rect x="437.73" y="823.5" width="1.5" height="5.5" fill="#5a5a5a"/>
<rect x="499.12" y="823.5" width="1.5" height="11.5" fill="#5a5a5a"/>
<rect x="560.51" y="823.5" width="1.5" height="5.5" fill="#5a5a5a"/>
<text x="105.6" y="515.7" font-family="Liberation Sans, sans-serif" font-size="25.5" text-anchor="end" textLength="44.3" lengthAdjust="spacing" fill="#111">600</text>
<text x="105.6" y="615.3" font-family="Liberation Sans, sans-serif" font-size="25.5" text-anchor="end" textLength="44.3" lengthAdjust="spacing" fill="#111">400</text>
<text x="105.6" y="714.9" font-family="Liberation Sans, sans-serif" font-size="25.5" text-anchor="end" textLength="44.3" lengthAdjust="spacing" fill="#111">200</text>
<text x="105.6" y="814.5" font-family="Liberation Sans, sans-serif" font-size="25.5" text-anchor="end" fill="#111">0</text>
<text x="130.7" y="864.2" font-family="Liberation Sans, sans-serif" font-size="25.5" text-anchor="middle" fill="#111">0</text>
<text x="253.49" y="864.2" font-family="Liberation Sans, sans-serif" font-size="25.5" text-anchor="middle" textLength="44.3" lengthAdjust="spacing" fill="#111">300</text>
<text x="376.28" y="864.2" font-family="Liberation Sans, sans-serif" font-size="25.5" text-anchor="middle" textLength="44.3" lengthAdjust="spacing" fill="#111">600</text>
<text x="499.07" y="864.2" font-family="Liberation Sans, sans-serif" font-size="25.5" text-anchor="middle" textLength="44.3" lengthAdjust="spacing" fill="#111">900</text>
<text x="-0.8" y="481.2" font-family="Liberation Sans, sans-serif" font-size="33" fill="#000">(</text>
<text transform="translate(11.2,481.9) scale(0.96,1)" x="0" y="0" font-family="Liberation Sans, sans-serif" font-size="33" fill="#000">b</text>
<text x="30.2" y="481.2" font-family="Liberation Sans, sans-serif" font-size="33" fill="#000">)</text>
<text x="314.5" y="903.2" font-family="Liberation Sans, sans-serif" font-size="25" fill="#111">Z<tspan font-size="16" dy="-12">/</tspan><tspan dy="12" dx="1.6" textLength="76.5" lengthAdjust="spacing">(Ohm)</tspan></text>
<g transform="translate(44.3,692) rotate(-90)"><text x="0" y="0" font-family="Liberation Sans, sans-serif" font-size="25" fill="#111">-Z<tspan font-size="16" dy="-14" dx="1.2">//</tspan><tspan dy="14" dx="0.6" textLength="68.5" lengthAdjust="spacing">(ohm)</tspan></text></g>
<line x1="141.8" y1="485.2" x2="160.4" y2="485.2" stroke="#000" stroke-width="1.8"/>
<line x1="174.1" y1="485.2" x2="192.7" y2="485.2" stroke="#000" stroke-width="1.8"/>
<rect x="162.1" y="480.5" width="9.8" height="9.4" fill="#000"/>
<line x1="141.8" y1="512.2" x2="160.4" y2="512.2" stroke="#f00" stroke-width="1.8"/>
<line x1="174.1" y1="512.2" x2="192.7" y2="512.2" stroke="#f00" stroke-width="1.8"/>
<rect x="162.1" y="507.5" width="9.8" height="9.4" fill="#f00"/>
<text x="198" y="492.6" font-family="Liberation Sans, sans-serif" font-size="20" textLength="151.5" lengthAdjust="spacing" fill="#111">Before stabality</text>
<text x="197.8" y="517.6" font-family="Liberation Sans, sans-serif" font-size="20" textLength="134.6" lengthAdjust="spacing" fill="#111">After stabality</text>
<polyline points="131.5,807.4 132.5,807.4 134,807 131.5,807.4 132.43,807.04 133.19,806.18 133.69,804.95 134.14,803.52 134.61,801.93 135.1,800.17 135.62,798.26 136.21,796.19 136.9,793.98 137.69,791.62 138.56,789.12 139.51,786.48 140.55,783.69 141.71,780.77 142.96,777.72 144.26,774.5 145.62,771.13 147,767.6 148.36,763.88 149.69,759.97 151.08,755.91 152.68,751.76 154.45,747.49 156.34,743.09 158.34,738.57 160.51,733.94 162.99,729.29 165.68,724.56 168.1,719.5 170.8,714 174.7,708.3 178.8,702 183.4,695.2 187.8,688.7 192.2,680.7 198.4,673.6 204.6,666.5 210.8,658.5 217.9,651.4 225.9,642.6 233.8,634.6 242.7,626.6 252.4,618.6 262.2,610.6 272.8,601.1 283.4,595.3 294.9,587.9 307.3,581 320.3,573.4 334.1,567.7 347.9,561.9 361.7,555.7 376.5,551.1 391.8,547 405.5,543.9 421.1,539.1 438.2,536.3 454.3,532.6 477.9,537.7 487.2,534.3 502.6,536.6 519,534.3" fill="none" stroke="#f00" stroke-width="1" stroke-dasharray="3 5"/>
<rect x="126.5" y="802.4" width="10" height="10" fill="#f00"/>
<rect x="127.5" y="802.4" width="10" height="10" fill="#f00"/>
<rect x="129" y="802" width="10" height="10" fill="#f00"/>
<rect x="126.5" y="802.4" width="10" height="10" fill="#f00"/>
<rect x="127.43" y="802.04" width="10" height="10" fill="#f00"/>
<rect x="128.19" y="801.18" width="10" height="10" fill="#f00"/>
<rect x="128.69" y="799.95" width="10" height="10" fill="#f00"/>
<rect x="129.14" y="798.52" width="10" height="10" fill="#f00"/>
<rect x="129.61" y="796.93" width="10" height="10" fill="#f00"/>
<rect x="130.1" y="795.17" width="10" height="10" fill="#f00"/>
<rect x="130.62" y="793.26" width="10" height="10" fill="#f00"/>
<rect x="131.21" y="791.19" width="10" height="10" fill="#f00"/>
<rect x="131.9" y="788.98" width="10" height="10" fill="#f00"/>
<rect x="132.69" y="786.62" width="10" height="10" fill="#f00"/>
<rect x="133.56" y="784.12" width="10" height="10" fill="#f00"/>
<rect x="134.51" y="781.48" width="10" height="10" fill="#f00"/>
<rect x="135.55" y="778.69" width="10" height="10" fill="#f00"/>
<rect x="136.71" y="775.77" width="10" height="10" fill="#f00"/>
<rect x="137.96" y="772.72" width="10" height="10" fill="#f00"/>
<rect x="139.26" y="769.5" width="10" height="10" fill="#f00"/>
<rect x="140.62" y="766.13" width="10" height="10" fill="#f00"/>
<rect x="142" y="762.6" width="10" height="10" fill="#f00"/>
<rect x="143.36" y="758.88" width="10" height="10" fill="#f00"/>
<rect x="144.69" y="754.97" width="10" height="10" fill="#f00"/>
<rect x="146.08" y="750.91" width="10" height="10" fill="#f00"/>
<rect x="147.68" y="746.76" width="10" height="10" fill="#f00"/>
<rect x="149.45" y="742.49" width="10" height="10" fill="#f00"/>
<rect x="151.34" y="738.09" width="10" height="10" fill="#f00"/>
<rect x="153.34" y="733.57" width="10" height="10" fill="#f00"/>
<rect x="155.51" y="728.94" width="10" height="10" fill="#f00"/>
<rect x="157.99" y="724.29" width="10" height="10" fill="#f00"/>
<rect x="160.68" y="719.56" width="10" height="10" fill="#f00"/>
<rect x="163.1" y="714.5" width="10" height="10" fill="#f00"/>
<rect x="165.8" y="709" width="10" height="10" fill="#f00"/>
<rect x="169.7" y="703.3" width="10" height="10" fill="#f00"/>
<rect x="173.8" y="697" width="10" height="10" fill="#f00"/>
<rect x="178.4" y="690.2" width="10" height="10" fill="#f00"/>
<rect x="182.8" y="683.7" width="10" height="10" fill="#f00"/>
<rect x="187.2" y="675.7" width="10" height="10" fill="#f00"/>
<rect x="193.4" y="668.6" width="10" height="10" fill="#f00"/>
<rect x="199.6" y="661.5" width="10" height="10" fill="#f00"/>
<rect x="205.8" y="653.5" width="10" height="10" fill="#f00"/>
<rect x="212.9" y="646.4" width="10" height="10" fill="#f00"/>
<rect x="220.9" y="637.6" width="10" height="10" fill="#f00"/>
<rect x="228.8" y="629.6" width="10" height="10" fill="#f00"/>
<rect x="237.7" y="621.6" width="10" height="10" fill="#f00"/>
<rect x="247.4" y="613.6" width="10" height="10" fill="#f00"/>
<rect x="257.2" y="605.6" width="10" height="10" fill="#f00"/>
<rect x="267.8" y="596.1" width="10" height="10" fill="#f00"/>
<rect x="278.4" y="590.3" width="10" height="10" fill="#f00"/>
<rect x="289.9" y="582.9" width="10" height="10" fill="#f00"/>
<rect x="302.3" y="576" width="10" height="10" fill="#f00"/>
<rect x="315.3" y="568.4" width="10" height="10" fill="#f00"/>
<rect x="329.1" y="562.7" width="10" height="10" fill="#f00"/>
<rect x="342.9" y="556.9" width="10" height="10" fill="#f00"/>
<rect x="356.7" y="550.7" width="10" height="10" fill="#f00"/>
<rect x="371.5" y="546.1" width="10" height="10" fill="#f00"/>
<rect x="386.8" y="542" width="10" height="10" fill="#f00"/>
<rect x="400.5" y="538.9" width="10" height="10" fill="#f00"/>
<rect x="416.1" y="534.1" width="10" height="10" fill="#f00"/>
<rect x="433.2" y="531.3" width="10" height="10" fill="#f00"/>
<rect x="449.3" y="527.6" width="10" height="10" fill="#f00"/>
<rect x="472.9" y="532.7" width="10" height="10" fill="#f00"/>
<rect x="482.2" y="529.3" width="10" height="10" fill="#f00"/>
<rect x="497.6" y="531.6" width="10" height="10" fill="#f00"/>
<rect x="514" y="529.3" width="10" height="10" fill="#f00"/>
<polyline points="170.1,802.8 170.4,802.8 170.1,802.8 173.04,799.99 176.02,797.24 179.22,794.74 182.7,792.65 186.4,790.96 190.26,789.7 194.25,788.99 198.27,788.44 202.22,787.47 206.02,786.06 209.61,784.17 212.39,781.24 214.47,777.75 216.79,774.42 219.33,771.25 221.9,768.1 224.5,764.98 227.07,761.84 229.56,758.63 232.13,755.48 234.83,752.44 237.59,749.46 240.41,746.54 243.24,743.62 246.07,740.71 249.01,737.9 252.06,735.23 255.13,732.56 258.2,729.9 261.9,727.4 266.2,723.1 270.4,719.9 274.7,716.7 278.9,713.5 282.7,711.4 286.9,708.2 291.2,704.5 296,701.8 300.2,698.6 304.5,695.4 309.8,691.2 314.8,688.2 318.8,684.3 323.7,679.4 328.1,675.4 333,670.5 337.8,665.6 342.7,660.3 347.6,653.2 352.5,647 358.2,639.6 363.1,633 368,623.2 373.7,613 379.8,603.2 388,581.9" fill="none" stroke="#000" stroke-width="1.2"/>
<rect x="165.1" y="797.8" width="10" height="10" fill="#000"/>
<rect x="165.4" y="797.8" width="10" height="10" fill="#000"/>
<rect x="165.1" y="797.8" width="10" height="10" fill="#000"/>
<rect x="168.04" y="794.99" width="10" height="10" fill="#000"/>
<rect x="171.02" y="792.24" width="10" height="10" fill="#000"/>
<rect x="174.22" y="789.74" width="10" height="10" fill="#000"/>
<rect x="177.7" y="787.65" width="10" height="10" fill="#000"/>
<rect x="181.4" y="785.96" width="10" height="10" fill="#000"/>
<rect x="185.26" y="784.7" width="10" height="10" fill="#000"/>
<rect x="189.25" y="783.99" width="10" height="10" fill="#000"/>
<rect x="193.27" y="783.44" width="10" height="10" fill="#000"/>
<rect x="197.22" y="782.47" width="10" height="10" fill="#000"/>
<rect x="201.02" y="781.06" width="10" height="10" fill="#000"/>
<rect x="204.61" y="779.17" width="10" height="10" fill="#000"/>
<rect x="207.39" y="776.24" width="10" height="10" fill="#000"/>
<rect x="209.47" y="772.75" width="10" height="10" fill="#000"/>
<rect x="211.79" y="769.42" width="10" height="10" fill="#000"/>
<rect x="214.33" y="766.25" width="10" height="10" fill="#000"/>
<rect x="216.9" y="763.1" width="10" height="10" fill="#000"/>
<rect x="219.5" y="759.98" width="10" height="10" fill="#000"/>
<rect x="222.07" y="756.84" width="10" height="10" fill="#000"/>
<rect x="224.56" y="753.63" width="10" height="10" fill="#000"/>
<rect x="227.13" y="750.48" width="10" height="10" fill="#000"/>
<rect x="229.83" y="747.44" width="10" height="10" fill="#000"/>
<rect x="232.59" y="744.46" width="10" height="10" fill="#000"/>
<rect x="235.41" y="741.54" width="10" height="10" fill="#000"/>
<rect x="238.24" y="738.62" width="10" height="10" fill="#000"/>
<rect x="241.07" y="735.71" width="10" height="10" fill="#000"/>
<rect x="244.01" y="732.9" width="10" height="10" fill="#000"/>
<rect x="247.06" y="730.23" width="10" height="10" fill="#000"/>
<rect x="250.13" y="727.56" width="10" height="10" fill="#000"/>
<rect x="253.2" y="724.9" width="10" height="10" fill="#000"/>
<rect x="256.9" y="722.4" width="10" height="10" fill="#000"/>
<rect x="261.2" y="718.1" width="10" height="10" fill="#000"/>
<rect x="265.4" y="714.9" width="10" height="10" fill="#000"/>
<rect x="269.7" y="711.7" width="10" height="10" fill="#000"/>
<rect x="273.9" y="708.5" width="10" height="10" fill="#000"/>
<rect x="277.7" y="706.4" width="10" height="10" fill="#000"/>
<rect x="281.9" y="703.2" width="10" height="10" fill="#000"/>
<rect x="286.2" y="699.5" width="10" height="10" fill="#000"/>
<rect x="291" y="696.8" width="10" height="10" fill="#000"/>
<rect x="295.2" y="693.6" width="10" height="10" fill="#000"/>
<rect x="299.5" y="690.4" width="10" height="10" fill="#000"/>
<rect x="304.8" y="686.2" width="10" height="10" fill="#000"/>
<rect x="309.8" y="683.2" width="10" height="10" fill="#000"/>
<rect x="313.8" y="679.3" width="10" height="10" fill="#000"/>
<rect x="318.7" y="674.4" width="10" height="10" fill="#000"/>
<rect x="323.1" y="670.4" width="10" height="10" fill="#000"/>
<rect x="328" y="665.5" width="10" height="10" fill="#000"/>
<rect x="332.8" y="660.6" width="10" height="10" fill="#000"/>
<rect x="337.7" y="655.3" width="10" height="10" fill="#000"/>
<rect x="342.6" y="648.2" width="10" height="10" fill="#000"/>
<rect x="347.5" y="642" width="10" height="10" fill="#000"/>
<rect x="353.2" y="634.6" width="10" height="10" fill="#000"/>
<rect x="358.1" y="628" width="10" height="10" fill="#000"/>
<rect x="363" y="618.2" width="10" height="10" fill="#000"/>
<rect x="368.7" y="608" width="10" height="10" fill="#000"/>
<rect x="374.8" y="598.2" width="10" height="10" fill="#000"/>
<rect x="383" y="576.9" width="10" height="10" fill="#000"/>
</svg>
</body></html>
